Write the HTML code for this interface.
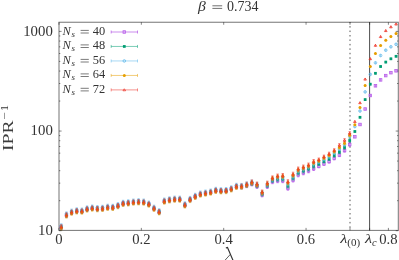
<!DOCTYPE html>
<html><head><meta charset="utf-8"><title>IPR plot</title>
<style>
html,body{margin:0;padding:0;background:#fff;}
body{width:399px;height:260px;overflow:hidden;font-family:"Liberation Serif",serif;}
svg{filter:blur(0.3px);}
svg text{font-family:"Liberation Serif",serif;fill:#333;}
.it{font-style:italic;}
.tk{font-size:13.7px;}
.lg{font-size:12.4px;}
.ti{font-size:14px;}
.ax{font-size:14.4px;}
</style></head><body>
<svg width="399" height="260" viewBox="0 0 399 260" style="display:block">
<rect width="399" height="260" fill="#fff"/>
<line x1="350" y1="22.25" x2="350" y2="230.4" stroke="#555" stroke-width="1.0" stroke-dasharray="1.5 2.95" stroke-dashoffset="0.6"/>
<line x1="369.6" y1="22.25" x2="369.6" y2="230.4" stroke="#444" stroke-width="0.95"/>
<path d="M59.0 230.70 h2.6 M398.3 230.70 h-2.6 M59.0 131.05 h2.6 M398.3 131.05 h-2.6 M59.0 31.40 h2.6 M398.3 31.40 h-2.6 M59.0 200.70 h1.3 M398.3 200.70 h-1.3 M59.0 183.15 h1.3 M398.3 183.15 h-1.3 M59.0 170.70 h1.3 M398.3 170.70 h-1.3 M59.0 161.05 h1.3 M398.3 161.05 h-1.3 M59.0 153.16 h1.3 M398.3 153.16 h-1.3 M59.0 146.49 h1.3 M398.3 146.49 h-1.3 M59.0 140.71 h1.3 M398.3 140.71 h-1.3 M59.0 135.61 h1.3 M398.3 135.61 h-1.3 M59.0 101.05 h1.3 M398.3 101.05 h-1.3 M59.0 83.50 h1.3 M398.3 83.50 h-1.3 M59.0 71.05 h1.3 M398.3 71.05 h-1.3 M59.0 61.40 h1.3 M398.3 61.40 h-1.3 M59.0 53.51 h1.3 M398.3 53.51 h-1.3 M59.0 46.84 h1.3 M398.3 46.84 h-1.3 M59.0 41.06 h1.3 M398.3 41.06 h-1.3 M59.0 35.96 h1.3 M398.3 35.96 h-1.3 M59.00 230.4 v-2.5 M59.00 22.25 v2.5 M141.35 230.4 v-2.5 M141.35 22.25 v2.5 M223.70 230.4 v-2.5 M223.70 22.25 v2.5 M306.05 230.4 v-2.5 M306.05 22.25 v2.5 M388.40 230.4 v-2.5 M388.40 22.25 v2.5 M350 230.4 v-2.5 M350 22.25 v2.5 M369.6 230.4 v-2.5 M369.6 22.25 v2.5" stroke="#222" stroke-width="0.55" fill="none"/>
<g><path d="M61.30 225.30 V229.30 M60.10 225.30 h2.4 M60.10 229.30 h2.4" stroke="#9d22dc" stroke-width="0.55" fill="none"/><rect x="60.03" y="226.03" width="2.54" height="2.54" fill="#c88af0" fill-opacity="0.4" stroke="#b95fea" stroke-width="0.8"/><path d="M66.45 213.40 V217.40 M65.25 213.40 h2.4 M65.25 217.40 h2.4" stroke="#9d22dc" stroke-width="0.55" fill="none"/><rect x="65.18" y="214.13" width="2.54" height="2.54" fill="#c88af0" fill-opacity="0.4" stroke="#b95fea" stroke-width="0.8"/><path d="M71.60 210.60 V214.60 M70.40 210.60 h2.4 M70.40 214.60 h2.4" stroke="#9d22dc" stroke-width="0.55" fill="none"/><rect x="70.33" y="211.33" width="2.54" height="2.54" fill="#c88af0" fill-opacity="0.4" stroke="#b95fea" stroke-width="0.8"/><path d="M76.75 209.30 V213.30 M75.55 209.30 h2.4 M75.55 213.30 h2.4" stroke="#9d22dc" stroke-width="0.55" fill="none"/><rect x="75.48" y="210.03" width="2.54" height="2.54" fill="#c88af0" fill-opacity="0.4" stroke="#b95fea" stroke-width="0.8"/><path d="M81.90 209.50 V213.50 M80.70 209.50 h2.4 M80.70 213.50 h2.4" stroke="#9d22dc" stroke-width="0.55" fill="none"/><rect x="80.63" y="210.23" width="2.54" height="2.54" fill="#c88af0" fill-opacity="0.4" stroke="#b95fea" stroke-width="0.8"/><path d="M87.05 207.40 V211.40 M85.85 207.40 h2.4 M85.85 211.40 h2.4" stroke="#9d22dc" stroke-width="0.55" fill="none"/><rect x="85.78" y="208.13" width="2.54" height="2.54" fill="#c88af0" fill-opacity="0.4" stroke="#b95fea" stroke-width="0.8"/><path d="M92.20 206.50 V210.50 M91.00 206.50 h2.4 M91.00 210.50 h2.4" stroke="#9d22dc" stroke-width="0.55" fill="none"/><rect x="90.93" y="207.23" width="2.54" height="2.54" fill="#c88af0" fill-opacity="0.4" stroke="#b95fea" stroke-width="0.8"/><path d="M97.35 207.10 V211.10 M96.15 207.10 h2.4 M96.15 211.10 h2.4" stroke="#9d22dc" stroke-width="0.55" fill="none"/><rect x="96.08" y="207.83" width="2.54" height="2.54" fill="#c88af0" fill-opacity="0.4" stroke="#b95fea" stroke-width="0.8"/><path d="M102.50 206.80 V210.80 M101.30 206.80 h2.4 M101.30 210.80 h2.4" stroke="#9d22dc" stroke-width="0.55" fill="none"/><rect x="101.23" y="207.53" width="2.54" height="2.54" fill="#c88af0" fill-opacity="0.4" stroke="#b95fea" stroke-width="0.8"/><path d="M107.65 205.70 V209.70 M106.45 205.70 h2.4 M106.45 209.70 h2.4" stroke="#9d22dc" stroke-width="0.55" fill="none"/><rect x="106.38" y="206.43" width="2.54" height="2.54" fill="#c88af0" fill-opacity="0.4" stroke="#b95fea" stroke-width="0.8"/><path d="M112.80 205.80 V209.80 M111.60 205.80 h2.4 M111.60 209.80 h2.4" stroke="#9d22dc" stroke-width="0.55" fill="none"/><rect x="111.53" y="206.53" width="2.54" height="2.54" fill="#c88af0" fill-opacity="0.4" stroke="#b95fea" stroke-width="0.8"/><path d="M117.95 204.10 V208.10 M116.75 204.10 h2.4 M116.75 208.10 h2.4" stroke="#9d22dc" stroke-width="0.55" fill="none"/><rect x="116.68" y="204.83" width="2.54" height="2.54" fill="#c88af0" fill-opacity="0.4" stroke="#b95fea" stroke-width="0.8"/><path d="M123.10 201.80 V205.80 M121.90 201.80 h2.4 M121.90 205.80 h2.4" stroke="#9d22dc" stroke-width="0.55" fill="none"/><rect x="121.83" y="202.53" width="2.54" height="2.54" fill="#c88af0" fill-opacity="0.4" stroke="#b95fea" stroke-width="0.8"/><path d="M128.25 201.30 V205.30 M127.05 201.30 h2.4 M127.05 205.30 h2.4" stroke="#9d22dc" stroke-width="0.55" fill="none"/><rect x="126.98" y="202.03" width="2.54" height="2.54" fill="#c88af0" fill-opacity="0.4" stroke="#b95fea" stroke-width="0.8"/><path d="M133.40 200.50 V204.50 M132.20 200.50 h2.4 M132.20 204.50 h2.4" stroke="#9d22dc" stroke-width="0.55" fill="none"/><rect x="132.13" y="201.23" width="2.54" height="2.54" fill="#c88af0" fill-opacity="0.4" stroke="#b95fea" stroke-width="0.8"/><path d="M138.55 200.20 V204.20 M137.35 200.20 h2.4 M137.35 204.20 h2.4" stroke="#9d22dc" stroke-width="0.55" fill="none"/><rect x="137.28" y="200.93" width="2.54" height="2.54" fill="#c88af0" fill-opacity="0.4" stroke="#b95fea" stroke-width="0.8"/><path d="M143.70 200.50 V204.50 M142.50 200.50 h2.4 M142.50 204.50 h2.4" stroke="#9d22dc" stroke-width="0.55" fill="none"/><rect x="142.43" y="201.23" width="2.54" height="2.54" fill="#c88af0" fill-opacity="0.4" stroke="#b95fea" stroke-width="0.8"/><path d="M148.85 202.50 V206.50 M147.65 202.50 h2.4 M147.65 206.50 h2.4" stroke="#9d22dc" stroke-width="0.55" fill="none"/><rect x="147.58" y="203.23" width="2.54" height="2.54" fill="#c88af0" fill-opacity="0.4" stroke="#b95fea" stroke-width="0.8"/><path d="M154.00 206.70 V210.70 M152.80 206.70 h2.4 M152.80 210.70 h2.4" stroke="#9d22dc" stroke-width="0.55" fill="none"/><rect x="152.73" y="207.43" width="2.54" height="2.54" fill="#c88af0" fill-opacity="0.4" stroke="#b95fea" stroke-width="0.8"/><path d="M159.15 210.20 V214.20 M157.95 210.20 h2.4 M157.95 214.20 h2.4" stroke="#9d22dc" stroke-width="0.55" fill="none"/><rect x="157.88" y="210.93" width="2.54" height="2.54" fill="#c88af0" fill-opacity="0.4" stroke="#b95fea" stroke-width="0.8"/><path d="M164.30 199.50 V203.50 M163.10 199.50 h2.4 M163.10 203.50 h2.4" stroke="#9d22dc" stroke-width="0.55" fill="none"/><rect x="163.03" y="200.23" width="2.54" height="2.54" fill="#c88af0" fill-opacity="0.4" stroke="#b95fea" stroke-width="0.8"/><path d="M169.45 198.30 V202.30 M168.25 198.30 h2.4 M168.25 202.30 h2.4" stroke="#9d22dc" stroke-width="0.55" fill="none"/><rect x="168.18" y="199.03" width="2.54" height="2.54" fill="#c88af0" fill-opacity="0.4" stroke="#b95fea" stroke-width="0.8"/><path d="M174.60 197.60 V201.60 M173.40 197.60 h2.4 M173.40 201.60 h2.4" stroke="#9d22dc" stroke-width="0.55" fill="none"/><rect x="173.33" y="198.33" width="2.54" height="2.54" fill="#c88af0" fill-opacity="0.4" stroke="#b95fea" stroke-width="0.8"/><path d="M179.75 197.60 V201.60 M178.55 197.60 h2.4 M178.55 201.60 h2.4" stroke="#9d22dc" stroke-width="0.55" fill="none"/><rect x="178.48" y="198.33" width="2.54" height="2.54" fill="#c88af0" fill-opacity="0.4" stroke="#b95fea" stroke-width="0.8"/><path d="M184.90 203.30 V207.30 M183.70 203.30 h2.4 M183.70 207.30 h2.4" stroke="#9d22dc" stroke-width="0.55" fill="none"/><rect x="183.63" y="204.03" width="2.54" height="2.54" fill="#c88af0" fill-opacity="0.4" stroke="#b95fea" stroke-width="0.8"/><path d="M190.05 197.90 V201.90 M188.85 197.90 h2.4 M188.85 201.90 h2.4" stroke="#9d22dc" stroke-width="0.55" fill="none"/><rect x="188.78" y="198.63" width="2.54" height="2.54" fill="#c88af0" fill-opacity="0.4" stroke="#b95fea" stroke-width="0.8"/><path d="M195.20 194.80 V198.80 M194.00 194.80 h2.4 M194.00 198.80 h2.4" stroke="#9d22dc" stroke-width="0.55" fill="none"/><rect x="193.93" y="195.53" width="2.54" height="2.54" fill="#c88af0" fill-opacity="0.4" stroke="#b95fea" stroke-width="0.8"/><path d="M200.35 192.50 V196.50 M199.15 192.50 h2.4 M199.15 196.50 h2.4" stroke="#9d22dc" stroke-width="0.55" fill="none"/><rect x="199.08" y="193.23" width="2.54" height="2.54" fill="#c88af0" fill-opacity="0.4" stroke="#b95fea" stroke-width="0.8"/><path d="M205.50 191.50 V195.50 M204.30 191.50 h2.4 M204.30 195.50 h2.4" stroke="#9d22dc" stroke-width="0.55" fill="none"/><rect x="204.23" y="192.23" width="2.54" height="2.54" fill="#c88af0" fill-opacity="0.4" stroke="#b95fea" stroke-width="0.8"/><path d="M210.65 190.50 V194.50 M209.45 190.50 h2.4 M209.45 194.50 h2.4" stroke="#9d22dc" stroke-width="0.55" fill="none"/><rect x="209.38" y="191.23" width="2.54" height="2.54" fill="#c88af0" fill-opacity="0.4" stroke="#b95fea" stroke-width="0.8"/><path d="M215.80 188.80 V192.80 M214.60 188.80 h2.4 M214.60 192.80 h2.4" stroke="#9d22dc" stroke-width="0.55" fill="none"/><rect x="214.53" y="189.53" width="2.54" height="2.54" fill="#c88af0" fill-opacity="0.4" stroke="#b95fea" stroke-width="0.8"/><path d="M220.95 189.20 V193.20 M219.75 189.20 h2.4 M219.75 193.20 h2.4" stroke="#9d22dc" stroke-width="0.55" fill="none"/><rect x="219.68" y="189.93" width="2.54" height="2.54" fill="#c88af0" fill-opacity="0.4" stroke="#b95fea" stroke-width="0.8"/><path d="M226.10 189.00 V193.00 M224.90 189.00 h2.4 M224.90 193.00 h2.4" stroke="#9d22dc" stroke-width="0.55" fill="none"/><rect x="224.83" y="189.73" width="2.54" height="2.54" fill="#c88af0" fill-opacity="0.4" stroke="#b95fea" stroke-width="0.8"/><path d="M231.25 187.30 V191.30 M230.05 187.30 h2.4 M230.05 191.30 h2.4" stroke="#9d22dc" stroke-width="0.55" fill="none"/><rect x="229.98" y="188.03" width="2.54" height="2.54" fill="#c88af0" fill-opacity="0.4" stroke="#b95fea" stroke-width="0.8"/><path d="M236.40 184.80 V188.80 M235.20 184.80 h2.4 M235.20 188.80 h2.4" stroke="#9d22dc" stroke-width="0.55" fill="none"/><rect x="235.13" y="185.53" width="2.54" height="2.54" fill="#c88af0" fill-opacity="0.4" stroke="#b95fea" stroke-width="0.8"/><path d="M241.55 185.03 V189.03 M240.35 185.03 h2.4 M240.35 189.03 h2.4" stroke="#9d22dc" stroke-width="0.55" fill="none"/><rect x="240.28" y="185.76" width="2.54" height="2.54" fill="#c88af0" fill-opacity="0.4" stroke="#b95fea" stroke-width="0.8"/><path d="M246.70 183.66 V187.66 M245.50 183.66 h2.4 M245.50 187.66 h2.4" stroke="#9d22dc" stroke-width="0.55" fill="none"/><rect x="245.43" y="184.39" width="2.54" height="2.54" fill="#c88af0" fill-opacity="0.4" stroke="#b95fea" stroke-width="0.8"/><path d="M251.85 181.89 V185.89 M250.65 181.89 h2.4 M250.65 185.89 h2.4" stroke="#9d22dc" stroke-width="0.55" fill="none"/><rect x="250.58" y="182.62" width="2.54" height="2.54" fill="#c88af0" fill-opacity="0.4" stroke="#b95fea" stroke-width="0.8"/><path d="M257.00 184.41 V188.41 M255.80 184.41 h2.4 M255.80 188.41 h2.4" stroke="#9d22dc" stroke-width="0.55" fill="none"/><rect x="255.73" y="185.14" width="2.54" height="2.54" fill="#c88af0" fill-opacity="0.4" stroke="#b95fea" stroke-width="0.8"/><path d="M262.15 192.84 V196.84 M260.95 192.84 h2.4 M260.95 196.84 h2.4" stroke="#9d22dc" stroke-width="0.55" fill="none"/><rect x="260.88" y="193.57" width="2.54" height="2.54" fill="#c88af0" fill-opacity="0.4" stroke="#b95fea" stroke-width="0.8"/><path d="M267.30 184.47 V188.47 M266.10 184.47 h2.4 M266.10 188.47 h2.4" stroke="#9d22dc" stroke-width="0.55" fill="none"/><rect x="266.03" y="185.20" width="2.54" height="2.54" fill="#c88af0" fill-opacity="0.4" stroke="#b95fea" stroke-width="0.8"/><path d="M272.45 179.70 V183.70 M271.25 179.70 h2.4 M271.25 183.70 h2.4" stroke="#9d22dc" stroke-width="0.55" fill="none"/><rect x="271.18" y="180.43" width="2.54" height="2.54" fill="#c88af0" fill-opacity="0.4" stroke="#b95fea" stroke-width="0.8"/><path d="M277.60 178.70 V182.70 M276.40 178.70 h2.4 M276.40 182.70 h2.4" stroke="#9d22dc" stroke-width="0.55" fill="none"/><rect x="276.33" y="179.43" width="2.54" height="2.54" fill="#c88af0" fill-opacity="0.4" stroke="#b95fea" stroke-width="0.8"/><path d="M282.75 178.70 V182.70 M281.55 178.70 h2.4 M281.55 182.70 h2.4" stroke="#9d22dc" stroke-width="0.55" fill="none"/><rect x="281.48" y="179.43" width="2.54" height="2.54" fill="#c88af0" fill-opacity="0.4" stroke="#b95fea" stroke-width="0.8"/><path d="M287.90 186.20 V190.20 M286.70 186.20 h2.4 M286.70 190.20 h2.4" stroke="#9d22dc" stroke-width="0.55" fill="none"/><rect x="286.63" y="186.93" width="2.54" height="2.54" fill="#c88af0" fill-opacity="0.4" stroke="#b95fea" stroke-width="0.8"/><path d="M293.05 178.00 V182.00 M291.85 178.00 h2.4 M291.85 182.00 h2.4" stroke="#9d22dc" stroke-width="0.55" fill="none"/><rect x="291.78" y="178.73" width="2.54" height="2.54" fill="#c88af0" fill-opacity="0.4" stroke="#b95fea" stroke-width="0.8"/><path d="M298.20 172.80 V176.80 M297.00 172.80 h2.4 M297.00 176.80 h2.4" stroke="#9d22dc" stroke-width="0.55" fill="none"/><rect x="296.93" y="173.53" width="2.54" height="2.54" fill="#c88af0" fill-opacity="0.4" stroke="#b95fea" stroke-width="0.8"/><path d="M303.35 170.80 V174.80 M302.15 170.80 h2.4 M302.15 174.80 h2.4" stroke="#9d22dc" stroke-width="0.55" fill="none"/><rect x="302.08" y="171.53" width="2.54" height="2.54" fill="#c88af0" fill-opacity="0.4" stroke="#b95fea" stroke-width="0.8"/><path d="M308.50 168.80 V172.80 M307.30 168.80 h2.4 M307.30 172.80 h2.4" stroke="#9d22dc" stroke-width="0.55" fill="none"/><rect x="307.23" y="169.53" width="2.54" height="2.54" fill="#c88af0" fill-opacity="0.4" stroke="#b95fea" stroke-width="0.8"/><path d="M313.65 166.50 V170.50 M312.45 166.50 h2.4 M312.45 170.50 h2.4" stroke="#9d22dc" stroke-width="0.55" fill="none"/><rect x="312.38" y="167.23" width="2.54" height="2.54" fill="#c88af0" fill-opacity="0.4" stroke="#b95fea" stroke-width="0.8"/><path d="M318.80 164.60 V167.80 M317.60 164.60 h2.4 M317.60 167.80 h2.4" stroke="#9d22dc" stroke-width="0.55" fill="none"/><rect x="317.53" y="164.93" width="2.54" height="2.54" fill="#c88af0" fill-opacity="0.4" stroke="#b95fea" stroke-width="0.8"/><path d="M323.95 162.20 V165.40 M322.75 162.20 h2.4 M322.75 165.40 h2.4" stroke="#9d22dc" stroke-width="0.55" fill="none"/><rect x="322.68" y="162.53" width="2.54" height="2.54" fill="#c88af0" fill-opacity="0.4" stroke="#b95fea" stroke-width="0.8"/><path d="M329.10 159.90 V163.10 M327.90 159.90 h2.4 M327.90 163.10 h2.4" stroke="#9d22dc" stroke-width="0.55" fill="none"/><rect x="327.83" y="160.23" width="2.54" height="2.54" fill="#c88af0" fill-opacity="0.4" stroke="#b95fea" stroke-width="0.8"/><path d="M334.25 156.70 V159.90 M333.05 156.70 h2.4 M333.05 159.90 h2.4" stroke="#9d22dc" stroke-width="0.55" fill="none"/><rect x="332.98" y="157.03" width="2.54" height="2.54" fill="#c88af0" fill-opacity="0.4" stroke="#b95fea" stroke-width="0.8"/><path d="M339.40 153.40 V156.60 M338.20 153.40 h2.4 M338.20 156.60 h2.4" stroke="#9d22dc" stroke-width="0.55" fill="none"/><rect x="338.13" y="153.73" width="2.54" height="2.54" fill="#c88af0" fill-opacity="0.4" stroke="#b95fea" stroke-width="0.8"/><path d="M344.55 148.90 V152.10 M343.35 148.90 h2.4 M343.35 152.10 h2.4" stroke="#9d22dc" stroke-width="0.55" fill="none"/><rect x="343.28" y="149.23" width="2.54" height="2.54" fill="#c88af0" fill-opacity="0.4" stroke="#b95fea" stroke-width="0.8"/><path d="M349.70 142.90 V146.10 M348.50 142.90 h2.4 M348.50 146.10 h2.4" stroke="#9d22dc" stroke-width="0.55" fill="none"/><rect x="348.43" y="143.23" width="2.54" height="2.54" fill="#c88af0" fill-opacity="0.4" stroke="#b95fea" stroke-width="0.8"/><path d="M354.85 136.00 V137.60 M354.40 136.00 h0.9 M354.40 137.60 h0.9" stroke="#9d22dc" stroke-width="0.55" fill="none"/><rect x="353.58" y="135.53" width="2.54" height="2.54" fill="#c88af0" fill-opacity="0.4" stroke="#b95fea" stroke-width="0.8"/><path d="M360.00 123.70 V125.30 M359.55 123.70 h0.9 M359.55 125.30 h0.9" stroke="#9d22dc" stroke-width="0.55" fill="none"/><rect x="358.73" y="123.23" width="2.54" height="2.54" fill="#c88af0" fill-opacity="0.4" stroke="#b95fea" stroke-width="0.8"/><path d="M365.15 108.20 V109.80 M364.70 108.20 h0.9 M364.70 109.80 h0.9" stroke="#9d22dc" stroke-width="0.55" fill="none"/><rect x="363.88" y="107.73" width="2.54" height="2.54" fill="#c88af0" fill-opacity="0.4" stroke="#b95fea" stroke-width="0.8"/><path d="M370.30 94.70 V96.30 M369.85 94.70 h0.9 M369.85 96.30 h0.9" stroke="#9d22dc" stroke-width="0.55" fill="none"/><rect x="369.03" y="94.23" width="2.54" height="2.54" fill="#c88af0" fill-opacity="0.4" stroke="#b95fea" stroke-width="0.8"/><path d="M375.45 85.00 V86.60 M375.00 85.00 h0.9 M375.00 86.60 h0.9" stroke="#9d22dc" stroke-width="0.55" fill="none"/><rect x="374.18" y="84.53" width="2.54" height="2.54" fill="#c88af0" fill-opacity="0.4" stroke="#b95fea" stroke-width="0.8"/><path d="M380.60 79.10 V80.70 M380.15 79.10 h0.9 M380.15 80.70 h0.9" stroke="#9d22dc" stroke-width="0.55" fill="none"/><rect x="379.33" y="78.63" width="2.54" height="2.54" fill="#c88af0" fill-opacity="0.4" stroke="#b95fea" stroke-width="0.8"/><path d="M385.75 74.80 V76.40 M385.30 74.80 h0.9 M385.30 76.40 h0.9" stroke="#9d22dc" stroke-width="0.55" fill="none"/><rect x="384.48" y="74.33" width="2.54" height="2.54" fill="#c88af0" fill-opacity="0.4" stroke="#b95fea" stroke-width="0.8"/><path d="M390.90 71.90 V73.50 M390.45 71.90 h0.9 M390.45 73.50 h0.9" stroke="#9d22dc" stroke-width="0.55" fill="none"/><rect x="389.63" y="71.43" width="2.54" height="2.54" fill="#c88af0" fill-opacity="0.4" stroke="#b95fea" stroke-width="0.8"/><path d="M396.05 70.00 V71.60 M395.60 70.00 h0.9 M395.60 71.60 h0.9" stroke="#9d22dc" stroke-width="0.55" fill="none"/><rect x="394.78" y="69.53" width="2.54" height="2.54" fill="#c88af0" fill-opacity="0.4" stroke="#b95fea" stroke-width="0.8"/></g>
<g><path d="M61.30 225.20 V229.20 M60.10 225.20 h2.4 M60.10 229.20 h2.4" stroke="#009e73" stroke-width="0.55" fill="none"/><rect x="59.92" y="225.82" width="2.76" height="2.76" fill="#009e73"/><path d="M66.45 213.30 V217.30 M65.25 213.30 h2.4 M65.25 217.30 h2.4" stroke="#009e73" stroke-width="0.55" fill="none"/><rect x="65.07" y="213.92" width="2.76" height="2.76" fill="#009e73"/><path d="M71.60 210.50 V214.50 M70.40 210.50 h2.4 M70.40 214.50 h2.4" stroke="#009e73" stroke-width="0.55" fill="none"/><rect x="70.22" y="211.12" width="2.76" height="2.76" fill="#009e73"/><path d="M76.75 209.20 V213.20 M75.55 209.20 h2.4 M75.55 213.20 h2.4" stroke="#009e73" stroke-width="0.55" fill="none"/><rect x="75.37" y="209.82" width="2.76" height="2.76" fill="#009e73"/><path d="M81.90 209.40 V213.40 M80.70 209.40 h2.4 M80.70 213.40 h2.4" stroke="#009e73" stroke-width="0.55" fill="none"/><rect x="80.52" y="210.02" width="2.76" height="2.76" fill="#009e73"/><path d="M87.05 207.30 V211.30 M85.85 207.30 h2.4 M85.85 211.30 h2.4" stroke="#009e73" stroke-width="0.55" fill="none"/><rect x="85.67" y="207.92" width="2.76" height="2.76" fill="#009e73"/><path d="M92.20 206.40 V210.40 M91.00 206.40 h2.4 M91.00 210.40 h2.4" stroke="#009e73" stroke-width="0.55" fill="none"/><rect x="90.82" y="207.02" width="2.76" height="2.76" fill="#009e73"/><path d="M97.35 207.00 V211.00 M96.15 207.00 h2.4 M96.15 211.00 h2.4" stroke="#009e73" stroke-width="0.55" fill="none"/><rect x="95.97" y="207.62" width="2.76" height="2.76" fill="#009e73"/><path d="M102.50 206.70 V210.70 M101.30 206.70 h2.4 M101.30 210.70 h2.4" stroke="#009e73" stroke-width="0.55" fill="none"/><rect x="101.12" y="207.32" width="2.76" height="2.76" fill="#009e73"/><path d="M107.65 205.60 V209.60 M106.45 205.60 h2.4 M106.45 209.60 h2.4" stroke="#009e73" stroke-width="0.55" fill="none"/><rect x="106.27" y="206.22" width="2.76" height="2.76" fill="#009e73"/><path d="M112.80 205.70 V209.70 M111.60 205.70 h2.4 M111.60 209.70 h2.4" stroke="#009e73" stroke-width="0.55" fill="none"/><rect x="111.42" y="206.32" width="2.76" height="2.76" fill="#009e73"/><path d="M117.95 204.00 V208.00 M116.75 204.00 h2.4 M116.75 208.00 h2.4" stroke="#009e73" stroke-width="0.55" fill="none"/><rect x="116.57" y="204.62" width="2.76" height="2.76" fill="#009e73"/><path d="M123.10 201.70 V205.70 M121.90 201.70 h2.4 M121.90 205.70 h2.4" stroke="#009e73" stroke-width="0.55" fill="none"/><rect x="121.72" y="202.32" width="2.76" height="2.76" fill="#009e73"/><path d="M128.25 201.20 V205.20 M127.05 201.20 h2.4 M127.05 205.20 h2.4" stroke="#009e73" stroke-width="0.55" fill="none"/><rect x="126.87" y="201.82" width="2.76" height="2.76" fill="#009e73"/><path d="M133.40 200.40 V204.40 M132.20 200.40 h2.4 M132.20 204.40 h2.4" stroke="#009e73" stroke-width="0.55" fill="none"/><rect x="132.02" y="201.02" width="2.76" height="2.76" fill="#009e73"/><path d="M138.55 200.10 V204.10 M137.35 200.10 h2.4 M137.35 204.10 h2.4" stroke="#009e73" stroke-width="0.55" fill="none"/><rect x="137.17" y="200.72" width="2.76" height="2.76" fill="#009e73"/><path d="M143.70 200.40 V204.40 M142.50 200.40 h2.4 M142.50 204.40 h2.4" stroke="#009e73" stroke-width="0.55" fill="none"/><rect x="142.32" y="201.02" width="2.76" height="2.76" fill="#009e73"/><path d="M148.85 202.40 V206.40 M147.65 202.40 h2.4 M147.65 206.40 h2.4" stroke="#009e73" stroke-width="0.55" fill="none"/><rect x="147.47" y="203.02" width="2.76" height="2.76" fill="#009e73"/><path d="M154.00 206.60 V210.60 M152.80 206.60 h2.4 M152.80 210.60 h2.4" stroke="#009e73" stroke-width="0.55" fill="none"/><rect x="152.62" y="207.22" width="2.76" height="2.76" fill="#009e73"/><path d="M159.15 210.10 V214.10 M157.95 210.10 h2.4 M157.95 214.10 h2.4" stroke="#009e73" stroke-width="0.55" fill="none"/><rect x="157.77" y="210.72" width="2.76" height="2.76" fill="#009e73"/><path d="M164.30 199.40 V203.40 M163.10 199.40 h2.4 M163.10 203.40 h2.4" stroke="#009e73" stroke-width="0.55" fill="none"/><rect x="162.92" y="200.02" width="2.76" height="2.76" fill="#009e73"/><path d="M169.45 198.20 V202.20 M168.25 198.20 h2.4 M168.25 202.20 h2.4" stroke="#009e73" stroke-width="0.55" fill="none"/><rect x="168.07" y="198.82" width="2.76" height="2.76" fill="#009e73"/><path d="M174.60 197.50 V201.50 M173.40 197.50 h2.4 M173.40 201.50 h2.4" stroke="#009e73" stroke-width="0.55" fill="none"/><rect x="173.22" y="198.12" width="2.76" height="2.76" fill="#009e73"/><path d="M179.75 197.50 V201.50 M178.55 197.50 h2.4 M178.55 201.50 h2.4" stroke="#009e73" stroke-width="0.55" fill="none"/><rect x="178.37" y="198.12" width="2.76" height="2.76" fill="#009e73"/><path d="M184.90 203.20 V207.20 M183.70 203.20 h2.4 M183.70 207.20 h2.4" stroke="#009e73" stroke-width="0.55" fill="none"/><rect x="183.52" y="203.82" width="2.76" height="2.76" fill="#009e73"/><path d="M190.05 197.80 V201.80 M188.85 197.80 h2.4 M188.85 201.80 h2.4" stroke="#009e73" stroke-width="0.55" fill="none"/><rect x="188.67" y="198.42" width="2.76" height="2.76" fill="#009e73"/><path d="M195.20 194.70 V198.70 M194.00 194.70 h2.4 M194.00 198.70 h2.4" stroke="#009e73" stroke-width="0.55" fill="none"/><rect x="193.82" y="195.32" width="2.76" height="2.76" fill="#009e73"/><path d="M200.35 192.40 V196.40 M199.15 192.40 h2.4 M199.15 196.40 h2.4" stroke="#009e73" stroke-width="0.55" fill="none"/><rect x="198.97" y="193.02" width="2.76" height="2.76" fill="#009e73"/><path d="M205.50 191.40 V195.40 M204.30 191.40 h2.4 M204.30 195.40 h2.4" stroke="#009e73" stroke-width="0.55" fill="none"/><rect x="204.12" y="192.02" width="2.76" height="2.76" fill="#009e73"/><path d="M210.65 190.40 V194.40 M209.45 190.40 h2.4 M209.45 194.40 h2.4" stroke="#009e73" stroke-width="0.55" fill="none"/><rect x="209.27" y="191.02" width="2.76" height="2.76" fill="#009e73"/><path d="M215.80 188.70 V192.70 M214.60 188.70 h2.4 M214.60 192.70 h2.4" stroke="#009e73" stroke-width="0.55" fill="none"/><rect x="214.42" y="189.32" width="2.76" height="2.76" fill="#009e73"/><path d="M220.95 189.10 V193.10 M219.75 189.10 h2.4 M219.75 193.10 h2.4" stroke="#009e73" stroke-width="0.55" fill="none"/><rect x="219.57" y="189.72" width="2.76" height="2.76" fill="#009e73"/><path d="M226.10 188.90 V192.90 M224.90 188.90 h2.4 M224.90 192.90 h2.4" stroke="#009e73" stroke-width="0.55" fill="none"/><rect x="224.72" y="189.52" width="2.76" height="2.76" fill="#009e73"/><path d="M231.25 187.20 V191.20 M230.05 187.20 h2.4 M230.05 191.20 h2.4" stroke="#009e73" stroke-width="0.55" fill="none"/><rect x="229.87" y="187.82" width="2.76" height="2.76" fill="#009e73"/><path d="M236.40 184.70 V188.70 M235.20 184.70 h2.4 M235.20 188.70 h2.4" stroke="#009e73" stroke-width="0.55" fill="none"/><rect x="235.02" y="185.32" width="2.76" height="2.76" fill="#009e73"/><path d="M241.55 184.76 V188.76 M240.35 184.76 h2.4 M240.35 188.76 h2.4" stroke="#009e73" stroke-width="0.55" fill="none"/><rect x="240.17" y="185.38" width="2.76" height="2.76" fill="#009e73"/><path d="M246.70 183.21 V187.21 M245.50 183.21 h2.4 M245.50 187.21 h2.4" stroke="#009e73" stroke-width="0.55" fill="none"/><rect x="245.32" y="183.83" width="2.76" height="2.76" fill="#009e73"/><path d="M251.85 181.27 V185.27 M250.65 181.27 h2.4 M250.65 185.27 h2.4" stroke="#009e73" stroke-width="0.55" fill="none"/><rect x="250.47" y="181.89" width="2.76" height="2.76" fill="#009e73"/><path d="M257.00 183.63 V187.63 M255.80 183.63 h2.4 M255.80 187.63 h2.4" stroke="#009e73" stroke-width="0.55" fill="none"/><rect x="255.62" y="184.25" width="2.76" height="2.76" fill="#009e73"/><path d="M262.15 191.89 V195.89 M260.95 191.89 h2.4 M260.95 195.89 h2.4" stroke="#009e73" stroke-width="0.55" fill="none"/><rect x="260.77" y="192.51" width="2.76" height="2.76" fill="#009e73"/><path d="M267.30 183.34 V187.34 M266.10 183.34 h2.4 M266.10 187.34 h2.4" stroke="#009e73" stroke-width="0.55" fill="none"/><rect x="265.92" y="183.96" width="2.76" height="2.76" fill="#009e73"/><path d="M272.45 178.41 V182.41 M271.25 178.41 h2.4 M271.25 182.41 h2.4" stroke="#009e73" stroke-width="0.55" fill="none"/><rect x="271.07" y="179.03" width="2.76" height="2.76" fill="#009e73"/><path d="M277.60 177.10 V181.10 M276.40 177.10 h2.4 M276.40 181.10 h2.4" stroke="#009e73" stroke-width="0.55" fill="none"/><rect x="276.22" y="177.72" width="2.76" height="2.76" fill="#009e73"/><path d="M282.75 176.93 V180.93 M281.55 176.93 h2.4 M281.55 180.93 h2.4" stroke="#009e73" stroke-width="0.55" fill="none"/><rect x="281.37" y="177.55" width="2.76" height="2.76" fill="#009e73"/><path d="M287.90 183.99 V187.99 M286.70 183.99 h2.4 M286.70 187.99 h2.4" stroke="#009e73" stroke-width="0.55" fill="none"/><rect x="286.52" y="184.61" width="2.76" height="2.76" fill="#009e73"/><path d="M293.05 176.03 V180.03 M291.85 176.03 h2.4 M291.85 180.03 h2.4" stroke="#009e73" stroke-width="0.55" fill="none"/><rect x="291.67" y="176.65" width="2.76" height="2.76" fill="#009e73"/><path d="M298.20 170.83 V174.83 M297.00 170.83 h2.4 M297.00 174.83 h2.4" stroke="#009e73" stroke-width="0.55" fill="none"/><rect x="296.82" y="171.45" width="2.76" height="2.76" fill="#009e73"/><path d="M303.35 168.83 V172.83 M302.15 168.83 h2.4 M302.15 172.83 h2.4" stroke="#009e73" stroke-width="0.55" fill="none"/><rect x="301.97" y="169.45" width="2.76" height="2.76" fill="#009e73"/><path d="M308.50 166.83 V170.83 M307.30 166.83 h2.4 M307.30 170.83 h2.4" stroke="#009e73" stroke-width="0.55" fill="none"/><rect x="307.12" y="167.45" width="2.76" height="2.76" fill="#009e73"/><path d="M313.65 164.12 V168.12 M312.45 164.12 h2.4 M312.45 168.12 h2.4" stroke="#009e73" stroke-width="0.55" fill="none"/><rect x="312.27" y="164.74" width="2.76" height="2.76" fill="#009e73"/><path d="M318.80 162.36 V165.56 M317.60 162.36 h2.4 M317.60 165.56 h2.4" stroke="#009e73" stroke-width="0.55" fill="none"/><rect x="317.42" y="162.58" width="2.76" height="2.76" fill="#009e73"/><path d="M323.95 159.79 V162.99 M322.75 159.79 h2.4 M322.75 162.99 h2.4" stroke="#009e73" stroke-width="0.55" fill="none"/><rect x="322.57" y="160.01" width="2.76" height="2.76" fill="#009e73"/><path d="M329.10 157.28 V160.48 M327.90 157.28 h2.4 M327.90 160.48 h2.4" stroke="#009e73" stroke-width="0.55" fill="none"/><rect x="327.72" y="157.50" width="2.76" height="2.76" fill="#009e73"/><path d="M334.25 153.90 V157.10 M333.05 153.90 h2.4 M333.05 157.10 h2.4" stroke="#009e73" stroke-width="0.55" fill="none"/><rect x="332.87" y="154.12" width="2.76" height="2.76" fill="#009e73"/><path d="M339.40 150.40 V153.60 M338.20 150.40 h2.4 M338.20 153.60 h2.4" stroke="#009e73" stroke-width="0.55" fill="none"/><rect x="338.02" y="150.62" width="2.76" height="2.76" fill="#009e73"/><path d="M344.55 145.90 V149.10 M343.35 145.90 h2.4 M343.35 149.10 h2.4" stroke="#009e73" stroke-width="0.55" fill="none"/><rect x="343.17" y="146.12" width="2.76" height="2.76" fill="#009e73"/><path d="M349.70 138.90 V142.10 M348.50 138.90 h2.4 M348.50 142.10 h2.4" stroke="#009e73" stroke-width="0.55" fill="none"/><rect x="348.32" y="139.12" width="2.76" height="2.76" fill="#009e73"/><path d="M354.85 130.70 V132.30 M354.40 130.70 h0.9 M354.40 132.30 h0.9" stroke="#009e73" stroke-width="0.55" fill="none"/><rect x="353.47" y="130.12" width="2.76" height="2.76" fill="#009e73"/><path d="M360.00 116.50 V118.10 M359.55 116.50 h0.9 M359.55 118.10 h0.9" stroke="#009e73" stroke-width="0.55" fill="none"/><rect x="358.62" y="115.92" width="2.76" height="2.76" fill="#009e73"/><path d="M365.15 98.80 V100.40 M364.70 98.80 h0.9 M364.70 100.40 h0.9" stroke="#009e73" stroke-width="0.55" fill="none"/><rect x="363.77" y="98.22" width="2.76" height="2.76" fill="#009e73"/><path d="M370.30 83.40 V85.00 M369.85 83.40 h0.9 M369.85 85.00 h0.9" stroke="#009e73" stroke-width="0.55" fill="none"/><rect x="368.92" y="82.82" width="2.76" height="2.76" fill="#009e73"/><path d="M375.45 72.50 V74.10 M375.00 72.50 h0.9 M375.00 74.10 h0.9" stroke="#009e73" stroke-width="0.55" fill="none"/><rect x="374.07" y="71.92" width="2.76" height="2.76" fill="#009e73"/><path d="M380.60 65.70 V67.30 M380.15 65.70 h0.9 M380.15 67.30 h0.9" stroke="#009e73" stroke-width="0.55" fill="none"/><rect x="379.22" y="65.12" width="2.76" height="2.76" fill="#009e73"/><path d="M385.75 61.30 V62.90 M385.30 61.30 h0.9 M385.30 62.90 h0.9" stroke="#009e73" stroke-width="0.55" fill="none"/><rect x="384.37" y="60.72" width="2.76" height="2.76" fill="#009e73"/><path d="M390.90 58.00 V59.60 M390.45 58.00 h0.9 M390.45 59.60 h0.9" stroke="#009e73" stroke-width="0.55" fill="none"/><rect x="389.52" y="57.42" width="2.76" height="2.76" fill="#009e73"/><path d="M396.05 55.50 V57.10 M395.60 55.50 h0.9 M395.60 57.10 h0.9" stroke="#009e73" stroke-width="0.55" fill="none"/><rect x="394.67" y="54.92" width="2.76" height="2.76" fill="#009e73"/></g>
<g><path d="M61.30 223.80 V227.80 M60.10 223.80 h2.4 M60.10 227.80 h2.4" stroke="#56b4e9" stroke-width="0.55" fill="none"/><circle cx="61.30" cy="225.80" r="1.32" fill="#56b4e9" fill-opacity="0.06" stroke="#56b4e9" stroke-width="0.7"/><path d="M66.45 211.90 V215.90 M65.25 211.90 h2.4 M65.25 215.90 h2.4" stroke="#56b4e9" stroke-width="0.55" fill="none"/><circle cx="66.45" cy="213.90" r="1.32" fill="#56b4e9" fill-opacity="0.06" stroke="#56b4e9" stroke-width="0.7"/><path d="M71.60 209.10 V213.10 M70.40 209.10 h2.4 M70.40 213.10 h2.4" stroke="#56b4e9" stroke-width="0.55" fill="none"/><circle cx="71.60" cy="211.10" r="1.32" fill="#56b4e9" fill-opacity="0.06" stroke="#56b4e9" stroke-width="0.7"/><path d="M76.75 207.80 V211.80 M75.55 207.80 h2.4 M75.55 211.80 h2.4" stroke="#56b4e9" stroke-width="0.55" fill="none"/><circle cx="76.75" cy="209.80" r="1.32" fill="#56b4e9" fill-opacity="0.06" stroke="#56b4e9" stroke-width="0.7"/><path d="M81.90 208.00 V212.00 M80.70 208.00 h2.4 M80.70 212.00 h2.4" stroke="#56b4e9" stroke-width="0.55" fill="none"/><circle cx="81.90" cy="210.00" r="1.32" fill="#56b4e9" fill-opacity="0.06" stroke="#56b4e9" stroke-width="0.7"/><path d="M87.05 205.90 V209.90 M85.85 205.90 h2.4 M85.85 209.90 h2.4" stroke="#56b4e9" stroke-width="0.55" fill="none"/><circle cx="87.05" cy="207.90" r="1.32" fill="#56b4e9" fill-opacity="0.06" stroke="#56b4e9" stroke-width="0.7"/><path d="M92.20 205.00 V209.00 M91.00 205.00 h2.4 M91.00 209.00 h2.4" stroke="#56b4e9" stroke-width="0.55" fill="none"/><circle cx="92.20" cy="207.00" r="1.32" fill="#56b4e9" fill-opacity="0.06" stroke="#56b4e9" stroke-width="0.7"/><path d="M97.35 205.60 V209.60 M96.15 205.60 h2.4 M96.15 209.60 h2.4" stroke="#56b4e9" stroke-width="0.55" fill="none"/><circle cx="97.35" cy="207.60" r="1.32" fill="#56b4e9" fill-opacity="0.06" stroke="#56b4e9" stroke-width="0.7"/><path d="M102.50 205.30 V209.30 M101.30 205.30 h2.4 M101.30 209.30 h2.4" stroke="#56b4e9" stroke-width="0.55" fill="none"/><circle cx="102.50" cy="207.30" r="1.32" fill="#56b4e9" fill-opacity="0.06" stroke="#56b4e9" stroke-width="0.7"/><path d="M107.65 204.20 V208.20 M106.45 204.20 h2.4 M106.45 208.20 h2.4" stroke="#56b4e9" stroke-width="0.55" fill="none"/><circle cx="107.65" cy="206.20" r="1.32" fill="#56b4e9" fill-opacity="0.06" stroke="#56b4e9" stroke-width="0.7"/><path d="M112.80 204.30 V208.30 M111.60 204.30 h2.4 M111.60 208.30 h2.4" stroke="#56b4e9" stroke-width="0.55" fill="none"/><circle cx="112.80" cy="206.30" r="1.32" fill="#56b4e9" fill-opacity="0.06" stroke="#56b4e9" stroke-width="0.7"/><path d="M117.95 202.60 V206.60 M116.75 202.60 h2.4 M116.75 206.60 h2.4" stroke="#56b4e9" stroke-width="0.55" fill="none"/><circle cx="117.95" cy="204.60" r="1.32" fill="#56b4e9" fill-opacity="0.06" stroke="#56b4e9" stroke-width="0.7"/><path d="M123.10 200.30 V204.30 M121.90 200.30 h2.4 M121.90 204.30 h2.4" stroke="#56b4e9" stroke-width="0.55" fill="none"/><circle cx="123.10" cy="202.30" r="1.32" fill="#56b4e9" fill-opacity="0.06" stroke="#56b4e9" stroke-width="0.7"/><path d="M128.25 199.80 V203.80 M127.05 199.80 h2.4 M127.05 203.80 h2.4" stroke="#56b4e9" stroke-width="0.55" fill="none"/><circle cx="128.25" cy="201.80" r="1.32" fill="#56b4e9" fill-opacity="0.06" stroke="#56b4e9" stroke-width="0.7"/><path d="M133.40 199.00 V203.00 M132.20 199.00 h2.4 M132.20 203.00 h2.4" stroke="#56b4e9" stroke-width="0.55" fill="none"/><circle cx="133.40" cy="201.00" r="1.32" fill="#56b4e9" fill-opacity="0.06" stroke="#56b4e9" stroke-width="0.7"/><path d="M138.55 198.70 V202.70 M137.35 198.70 h2.4 M137.35 202.70 h2.4" stroke="#56b4e9" stroke-width="0.55" fill="none"/><circle cx="138.55" cy="200.70" r="1.32" fill="#56b4e9" fill-opacity="0.06" stroke="#56b4e9" stroke-width="0.7"/><path d="M143.70 199.00 V203.00 M142.50 199.00 h2.4 M142.50 203.00 h2.4" stroke="#56b4e9" stroke-width="0.55" fill="none"/><circle cx="143.70" cy="201.00" r="1.32" fill="#56b4e9" fill-opacity="0.06" stroke="#56b4e9" stroke-width="0.7"/><path d="M148.85 201.00 V205.00 M147.65 201.00 h2.4 M147.65 205.00 h2.4" stroke="#56b4e9" stroke-width="0.55" fill="none"/><circle cx="148.85" cy="203.00" r="1.32" fill="#56b4e9" fill-opacity="0.06" stroke="#56b4e9" stroke-width="0.7"/><path d="M154.00 205.20 V209.20 M152.80 205.20 h2.4 M152.80 209.20 h2.4" stroke="#56b4e9" stroke-width="0.55" fill="none"/><circle cx="154.00" cy="207.20" r="1.32" fill="#56b4e9" fill-opacity="0.06" stroke="#56b4e9" stroke-width="0.7"/><path d="M159.15 208.70 V212.70 M157.95 208.70 h2.4 M157.95 212.70 h2.4" stroke="#56b4e9" stroke-width="0.55" fill="none"/><circle cx="159.15" cy="210.70" r="1.32" fill="#56b4e9" fill-opacity="0.06" stroke="#56b4e9" stroke-width="0.7"/><path d="M164.30 198.00 V202.00 M163.10 198.00 h2.4 M163.10 202.00 h2.4" stroke="#56b4e9" stroke-width="0.55" fill="none"/><circle cx="164.30" cy="200.00" r="1.32" fill="#56b4e9" fill-opacity="0.06" stroke="#56b4e9" stroke-width="0.7"/><path d="M169.45 196.80 V200.80 M168.25 196.80 h2.4 M168.25 200.80 h2.4" stroke="#56b4e9" stroke-width="0.55" fill="none"/><circle cx="169.45" cy="198.80" r="1.32" fill="#56b4e9" fill-opacity="0.06" stroke="#56b4e9" stroke-width="0.7"/><path d="M174.60 196.10 V200.10 M173.40 196.10 h2.4 M173.40 200.10 h2.4" stroke="#56b4e9" stroke-width="0.55" fill="none"/><circle cx="174.60" cy="198.10" r="1.32" fill="#56b4e9" fill-opacity="0.06" stroke="#56b4e9" stroke-width="0.7"/><path d="M179.75 196.10 V200.10 M178.55 196.10 h2.4 M178.55 200.10 h2.4" stroke="#56b4e9" stroke-width="0.55" fill="none"/><circle cx="179.75" cy="198.10" r="1.32" fill="#56b4e9" fill-opacity="0.06" stroke="#56b4e9" stroke-width="0.7"/><path d="M184.90 201.80 V205.80 M183.70 201.80 h2.4 M183.70 205.80 h2.4" stroke="#56b4e9" stroke-width="0.55" fill="none"/><circle cx="184.90" cy="203.80" r="1.32" fill="#56b4e9" fill-opacity="0.06" stroke="#56b4e9" stroke-width="0.7"/><path d="M190.05 196.40 V200.40 M188.85 196.40 h2.4 M188.85 200.40 h2.4" stroke="#56b4e9" stroke-width="0.55" fill="none"/><circle cx="190.05" cy="198.40" r="1.32" fill="#56b4e9" fill-opacity="0.06" stroke="#56b4e9" stroke-width="0.7"/><path d="M195.20 193.30 V197.30 M194.00 193.30 h2.4 M194.00 197.30 h2.4" stroke="#56b4e9" stroke-width="0.55" fill="none"/><circle cx="195.20" cy="195.30" r="1.32" fill="#56b4e9" fill-opacity="0.06" stroke="#56b4e9" stroke-width="0.7"/><path d="M200.35 191.00 V195.00 M199.15 191.00 h2.4 M199.15 195.00 h2.4" stroke="#56b4e9" stroke-width="0.55" fill="none"/><circle cx="200.35" cy="193.00" r="1.32" fill="#56b4e9" fill-opacity="0.06" stroke="#56b4e9" stroke-width="0.7"/><path d="M205.50 190.00 V194.00 M204.30 190.00 h2.4 M204.30 194.00 h2.4" stroke="#56b4e9" stroke-width="0.55" fill="none"/><circle cx="205.50" cy="192.00" r="1.32" fill="#56b4e9" fill-opacity="0.06" stroke="#56b4e9" stroke-width="0.7"/><path d="M210.65 189.00 V193.00 M209.45 189.00 h2.4 M209.45 193.00 h2.4" stroke="#56b4e9" stroke-width="0.55" fill="none"/><circle cx="210.65" cy="191.00" r="1.32" fill="#56b4e9" fill-opacity="0.06" stroke="#56b4e9" stroke-width="0.7"/><path d="M215.80 187.30 V191.30 M214.60 187.30 h2.4 M214.60 191.30 h2.4" stroke="#56b4e9" stroke-width="0.55" fill="none"/><circle cx="215.80" cy="189.30" r="1.32" fill="#56b4e9" fill-opacity="0.06" stroke="#56b4e9" stroke-width="0.7"/><path d="M220.95 187.70 V191.70 M219.75 187.70 h2.4 M219.75 191.70 h2.4" stroke="#56b4e9" stroke-width="0.55" fill="none"/><circle cx="220.95" cy="189.70" r="1.32" fill="#56b4e9" fill-opacity="0.06" stroke="#56b4e9" stroke-width="0.7"/><path d="M226.10 187.50 V191.50 M224.90 187.50 h2.4 M224.90 191.50 h2.4" stroke="#56b4e9" stroke-width="0.55" fill="none"/><circle cx="226.10" cy="189.50" r="1.32" fill="#56b4e9" fill-opacity="0.06" stroke="#56b4e9" stroke-width="0.7"/><path d="M231.25 185.80 V189.80 M230.05 185.80 h2.4 M230.05 189.80 h2.4" stroke="#56b4e9" stroke-width="0.55" fill="none"/><circle cx="231.25" cy="187.80" r="1.32" fill="#56b4e9" fill-opacity="0.06" stroke="#56b4e9" stroke-width="0.7"/><path d="M236.40 183.30 V187.30 M235.20 183.30 h2.4 M235.20 187.30 h2.4" stroke="#56b4e9" stroke-width="0.55" fill="none"/><circle cx="236.40" cy="185.30" r="1.32" fill="#56b4e9" fill-opacity="0.06" stroke="#56b4e9" stroke-width="0.7"/><path d="M241.55 183.41 V187.41 M240.35 183.41 h2.4 M240.35 187.41 h2.4" stroke="#56b4e9" stroke-width="0.55" fill="none"/><circle cx="241.55" cy="185.41" r="1.32" fill="#56b4e9" fill-opacity="0.06" stroke="#56b4e9" stroke-width="0.7"/><path d="M246.70 181.91 V185.91 M245.50 181.91 h2.4 M245.50 185.91 h2.4" stroke="#56b4e9" stroke-width="0.55" fill="none"/><circle cx="246.70" cy="183.91" r="1.32" fill="#56b4e9" fill-opacity="0.06" stroke="#56b4e9" stroke-width="0.7"/><path d="M251.85 180.02 V184.02 M250.65 180.02 h2.4 M250.65 184.02 h2.4" stroke="#56b4e9" stroke-width="0.55" fill="none"/><circle cx="251.85" cy="182.02" r="1.32" fill="#56b4e9" fill-opacity="0.06" stroke="#56b4e9" stroke-width="0.7"/><path d="M257.00 182.43 V186.43 M255.80 182.43 h2.4 M255.80 186.43 h2.4" stroke="#56b4e9" stroke-width="0.55" fill="none"/><circle cx="257.00" cy="184.43" r="1.32" fill="#56b4e9" fill-opacity="0.06" stroke="#56b4e9" stroke-width="0.7"/><path d="M262.15 190.74 V194.74 M260.95 190.74 h2.4 M260.95 194.74 h2.4" stroke="#56b4e9" stroke-width="0.55" fill="none"/><circle cx="262.15" cy="192.74" r="1.32" fill="#56b4e9" fill-opacity="0.06" stroke="#56b4e9" stroke-width="0.7"/><path d="M267.30 182.24 V186.24 M266.10 182.24 h2.4 M266.10 186.24 h2.4" stroke="#56b4e9" stroke-width="0.55" fill="none"/><circle cx="267.30" cy="184.24" r="1.32" fill="#56b4e9" fill-opacity="0.06" stroke="#56b4e9" stroke-width="0.7"/><path d="M272.45 177.31 V181.31 M271.25 177.31 h2.4 M271.25 181.31 h2.4" stroke="#56b4e9" stroke-width="0.55" fill="none"/><circle cx="272.45" cy="179.31" r="1.32" fill="#56b4e9" fill-opacity="0.06" stroke="#56b4e9" stroke-width="0.7"/><path d="M277.60 175.74 V179.74 M276.40 175.74 h2.4 M276.40 179.74 h2.4" stroke="#56b4e9" stroke-width="0.55" fill="none"/><circle cx="277.60" cy="177.74" r="1.32" fill="#56b4e9" fill-opacity="0.06" stroke="#56b4e9" stroke-width="0.7"/><path d="M282.75 175.42 V179.42 M281.55 175.42 h2.4 M281.55 179.42 h2.4" stroke="#56b4e9" stroke-width="0.55" fill="none"/><circle cx="282.75" cy="177.42" r="1.32" fill="#56b4e9" fill-opacity="0.06" stroke="#56b4e9" stroke-width="0.7"/><path d="M287.90 182.10 V186.10 M286.70 182.10 h2.4 M286.70 186.10 h2.4" stroke="#56b4e9" stroke-width="0.55" fill="none"/><circle cx="287.90" cy="184.10" r="1.32" fill="#56b4e9" fill-opacity="0.06" stroke="#56b4e9" stroke-width="0.7"/><path d="M293.05 174.35 V178.35 M291.85 174.35 h2.4 M291.85 178.35 h2.4" stroke="#56b4e9" stroke-width="0.55" fill="none"/><circle cx="293.05" cy="176.35" r="1.32" fill="#56b4e9" fill-opacity="0.06" stroke="#56b4e9" stroke-width="0.7"/><path d="M298.20 169.15 V173.15 M297.00 169.15 h2.4 M297.00 173.15 h2.4" stroke="#56b4e9" stroke-width="0.55" fill="none"/><circle cx="298.20" cy="171.15" r="1.32" fill="#56b4e9" fill-opacity="0.06" stroke="#56b4e9" stroke-width="0.7"/><path d="M303.35 167.15 V171.15 M302.15 167.15 h2.4 M302.15 171.15 h2.4" stroke="#56b4e9" stroke-width="0.55" fill="none"/><circle cx="303.35" cy="169.15" r="1.32" fill="#56b4e9" fill-opacity="0.06" stroke="#56b4e9" stroke-width="0.7"/><path d="M308.50 165.15 V169.15 M307.30 165.15 h2.4 M307.30 169.15 h2.4" stroke="#56b4e9" stroke-width="0.55" fill="none"/><circle cx="308.50" cy="167.15" r="1.32" fill="#56b4e9" fill-opacity="0.06" stroke="#56b4e9" stroke-width="0.7"/><path d="M313.65 162.09 V166.09 M312.45 162.09 h2.4 M312.45 166.09 h2.4" stroke="#56b4e9" stroke-width="0.55" fill="none"/><circle cx="313.65" cy="164.09" r="1.32" fill="#56b4e9" fill-opacity="0.06" stroke="#56b4e9" stroke-width="0.7"/><path d="M318.80 160.44 V163.64 M317.60 160.44 h2.4 M317.60 163.64 h2.4" stroke="#56b4e9" stroke-width="0.55" fill="none"/><circle cx="318.80" cy="162.04" r="1.32" fill="#56b4e9" fill-opacity="0.06" stroke="#56b4e9" stroke-width="0.7"/><path d="M323.95 157.73 V160.93 M322.75 157.73 h2.4 M322.75 160.93 h2.4" stroke="#56b4e9" stroke-width="0.55" fill="none"/><circle cx="323.95" cy="159.33" r="1.32" fill="#56b4e9" fill-opacity="0.06" stroke="#56b4e9" stroke-width="0.7"/><path d="M329.10 155.05 V158.25 M327.90 155.05 h2.4 M327.90 158.25 h2.4" stroke="#56b4e9" stroke-width="0.55" fill="none"/><circle cx="329.10" cy="156.65" r="1.32" fill="#56b4e9" fill-opacity="0.06" stroke="#56b4e9" stroke-width="0.7"/><path d="M334.25 151.40 V154.60 M333.05 151.40 h2.4 M333.05 154.60 h2.4" stroke="#56b4e9" stroke-width="0.55" fill="none"/><circle cx="334.25" cy="153.00" r="1.32" fill="#56b4e9" fill-opacity="0.06" stroke="#56b4e9" stroke-width="0.7"/><path d="M339.40 147.40 V150.60 M338.20 147.40 h2.4 M338.20 150.60 h2.4" stroke="#56b4e9" stroke-width="0.55" fill="none"/><circle cx="339.40" cy="149.00" r="1.32" fill="#56b4e9" fill-opacity="0.06" stroke="#56b4e9" stroke-width="0.7"/><path d="M344.55 143.00 V146.20 M343.35 143.00 h2.4 M343.35 146.20 h2.4" stroke="#56b4e9" stroke-width="0.55" fill="none"/><circle cx="344.55" cy="144.60" r="1.32" fill="#56b4e9" fill-opacity="0.06" stroke="#56b4e9" stroke-width="0.7"/><path d="M349.70 134.60 V137.80 M348.50 134.60 h2.4 M348.50 137.80 h2.4" stroke="#56b4e9" stroke-width="0.55" fill="none"/><circle cx="349.70" cy="136.20" r="1.32" fill="#56b4e9" fill-opacity="0.06" stroke="#56b4e9" stroke-width="0.7"/><path d="M354.85 125.80 V127.40 M354.40 125.80 h0.9 M354.40 127.40 h0.9" stroke="#56b4e9" stroke-width="0.55" fill="none"/><circle cx="354.85" cy="126.60" r="1.32" fill="#56b4e9" fill-opacity="0.06" stroke="#56b4e9" stroke-width="0.7"/><path d="M360.00 110.20 V111.80 M359.55 110.20 h0.9 M359.55 111.80 h0.9" stroke="#56b4e9" stroke-width="0.55" fill="none"/><circle cx="360.00" cy="111.00" r="1.32" fill="#56b4e9" fill-opacity="0.06" stroke="#56b4e9" stroke-width="0.7"/><path d="M365.15 91.10 V92.70 M364.70 91.10 h0.9 M364.70 92.70 h0.9" stroke="#56b4e9" stroke-width="0.55" fill="none"/><circle cx="365.15" cy="91.90" r="1.32" fill="#56b4e9" fill-opacity="0.06" stroke="#56b4e9" stroke-width="0.7"/><path d="M370.30 73.60 V75.20 M369.85 73.60 h0.9 M369.85 75.20 h0.9" stroke="#56b4e9" stroke-width="0.55" fill="none"/><circle cx="370.30" cy="74.40" r="1.32" fill="#56b4e9" fill-opacity="0.06" stroke="#56b4e9" stroke-width="0.7"/><path d="M375.45 62.00 V63.60 M375.00 62.00 h0.9 M375.00 63.60 h0.9" stroke="#56b4e9" stroke-width="0.55" fill="none"/><circle cx="375.45" cy="62.80" r="1.32" fill="#56b4e9" fill-opacity="0.06" stroke="#56b4e9" stroke-width="0.7"/><path d="M380.60 54.70 V56.30 M380.15 54.70 h0.9 M380.15 56.30 h0.9" stroke="#56b4e9" stroke-width="0.55" fill="none"/><circle cx="380.60" cy="55.50" r="1.32" fill="#56b4e9" fill-opacity="0.06" stroke="#56b4e9" stroke-width="0.7"/><path d="M385.75 49.40 V51.00 M385.30 49.40 h0.9 M385.30 51.00 h0.9" stroke="#56b4e9" stroke-width="0.55" fill="none"/><circle cx="385.75" cy="50.20" r="1.32" fill="#56b4e9" fill-opacity="0.06" stroke="#56b4e9" stroke-width="0.7"/><path d="M390.90 46.00 V47.60 M390.45 46.00 h0.9 M390.45 47.60 h0.9" stroke="#56b4e9" stroke-width="0.55" fill="none"/><circle cx="390.90" cy="46.80" r="1.32" fill="#56b4e9" fill-opacity="0.06" stroke="#56b4e9" stroke-width="0.7"/><path d="M396.05 43.50 V45.10 M395.60 43.50 h0.9 M395.60 45.10 h0.9" stroke="#56b4e9" stroke-width="0.55" fill="none"/><circle cx="396.05" cy="44.30" r="1.32" fill="#56b4e9" fill-opacity="0.06" stroke="#56b4e9" stroke-width="0.7"/></g>
<g><path d="M61.30 226.00 V230.00 M60.10 226.00 h2.4 M60.10 230.00 h2.4" stroke="#e69f00" stroke-width="0.55" fill="none"/><circle cx="61.30" cy="228.00" r="1.50" fill="#e69f00"/><path d="M66.45 214.10 V218.10 M65.25 214.10 h2.4 M65.25 218.10 h2.4" stroke="#e69f00" stroke-width="0.55" fill="none"/><circle cx="66.45" cy="216.10" r="1.50" fill="#e69f00"/><path d="M71.60 211.30 V215.30 M70.40 211.30 h2.4 M70.40 215.30 h2.4" stroke="#e69f00" stroke-width="0.55" fill="none"/><circle cx="71.60" cy="213.30" r="1.50" fill="#e69f00"/><path d="M76.75 210.00 V214.00 M75.55 210.00 h2.4 M75.55 214.00 h2.4" stroke="#e69f00" stroke-width="0.55" fill="none"/><circle cx="76.75" cy="212.00" r="1.50" fill="#e69f00"/><path d="M81.90 210.20 V214.20 M80.70 210.20 h2.4 M80.70 214.20 h2.4" stroke="#e69f00" stroke-width="0.55" fill="none"/><circle cx="81.90" cy="212.20" r="1.50" fill="#e69f00"/><path d="M87.05 208.10 V212.10 M85.85 208.10 h2.4 M85.85 212.10 h2.4" stroke="#e69f00" stroke-width="0.55" fill="none"/><circle cx="87.05" cy="210.10" r="1.50" fill="#e69f00"/><path d="M92.20 207.20 V211.20 M91.00 207.20 h2.4 M91.00 211.20 h2.4" stroke="#e69f00" stroke-width="0.55" fill="none"/><circle cx="92.20" cy="209.20" r="1.50" fill="#e69f00"/><path d="M97.35 207.80 V211.80 M96.15 207.80 h2.4 M96.15 211.80 h2.4" stroke="#e69f00" stroke-width="0.55" fill="none"/><circle cx="97.35" cy="209.80" r="1.50" fill="#e69f00"/><path d="M102.50 207.50 V211.50 M101.30 207.50 h2.4 M101.30 211.50 h2.4" stroke="#e69f00" stroke-width="0.55" fill="none"/><circle cx="102.50" cy="209.50" r="1.50" fill="#e69f00"/><path d="M107.65 206.40 V210.40 M106.45 206.40 h2.4 M106.45 210.40 h2.4" stroke="#e69f00" stroke-width="0.55" fill="none"/><circle cx="107.65" cy="208.40" r="1.50" fill="#e69f00"/><path d="M112.80 206.50 V210.50 M111.60 206.50 h2.4 M111.60 210.50 h2.4" stroke="#e69f00" stroke-width="0.55" fill="none"/><circle cx="112.80" cy="208.50" r="1.50" fill="#e69f00"/><path d="M117.95 204.80 V208.80 M116.75 204.80 h2.4 M116.75 208.80 h2.4" stroke="#e69f00" stroke-width="0.55" fill="none"/><circle cx="117.95" cy="206.80" r="1.50" fill="#e69f00"/><path d="M123.10 202.50 V206.50 M121.90 202.50 h2.4 M121.90 206.50 h2.4" stroke="#e69f00" stroke-width="0.55" fill="none"/><circle cx="123.10" cy="204.50" r="1.50" fill="#e69f00"/><path d="M128.25 202.00 V206.00 M127.05 202.00 h2.4 M127.05 206.00 h2.4" stroke="#e69f00" stroke-width="0.55" fill="none"/><circle cx="128.25" cy="204.00" r="1.50" fill="#e69f00"/><path d="M133.40 201.20 V205.20 M132.20 201.20 h2.4 M132.20 205.20 h2.4" stroke="#e69f00" stroke-width="0.55" fill="none"/><circle cx="133.40" cy="203.20" r="1.50" fill="#e69f00"/><path d="M138.55 200.90 V204.90 M137.35 200.90 h2.4 M137.35 204.90 h2.4" stroke="#e69f00" stroke-width="0.55" fill="none"/><circle cx="138.55" cy="202.90" r="1.50" fill="#e69f00"/><path d="M143.70 201.20 V205.20 M142.50 201.20 h2.4 M142.50 205.20 h2.4" stroke="#e69f00" stroke-width="0.55" fill="none"/><circle cx="143.70" cy="203.20" r="1.50" fill="#e69f00"/><path d="M148.85 203.20 V207.20 M147.65 203.20 h2.4 M147.65 207.20 h2.4" stroke="#e69f00" stroke-width="0.55" fill="none"/><circle cx="148.85" cy="205.20" r="1.50" fill="#e69f00"/><path d="M154.00 207.40 V211.40 M152.80 207.40 h2.4 M152.80 211.40 h2.4" stroke="#e69f00" stroke-width="0.55" fill="none"/><circle cx="154.00" cy="209.40" r="1.50" fill="#e69f00"/><path d="M159.15 210.90 V214.90 M157.95 210.90 h2.4 M157.95 214.90 h2.4" stroke="#e69f00" stroke-width="0.55" fill="none"/><circle cx="159.15" cy="212.90" r="1.50" fill="#e69f00"/><path d="M164.30 200.20 V204.20 M163.10 200.20 h2.4 M163.10 204.20 h2.4" stroke="#e69f00" stroke-width="0.55" fill="none"/><circle cx="164.30" cy="202.20" r="1.50" fill="#e69f00"/><path d="M169.45 199.00 V203.00 M168.25 199.00 h2.4 M168.25 203.00 h2.4" stroke="#e69f00" stroke-width="0.55" fill="none"/><circle cx="169.45" cy="201.00" r="1.50" fill="#e69f00"/><path d="M174.60 198.30 V202.30 M173.40 198.30 h2.4 M173.40 202.30 h2.4" stroke="#e69f00" stroke-width="0.55" fill="none"/><circle cx="174.60" cy="200.30" r="1.50" fill="#e69f00"/><path d="M179.75 198.30 V202.30 M178.55 198.30 h2.4 M178.55 202.30 h2.4" stroke="#e69f00" stroke-width="0.55" fill="none"/><circle cx="179.75" cy="200.30" r="1.50" fill="#e69f00"/><path d="M184.90 204.00 V208.00 M183.70 204.00 h2.4 M183.70 208.00 h2.4" stroke="#e69f00" stroke-width="0.55" fill="none"/><circle cx="184.90" cy="206.00" r="1.50" fill="#e69f00"/><path d="M190.05 198.60 V202.60 M188.85 198.60 h2.4 M188.85 202.60 h2.4" stroke="#e69f00" stroke-width="0.55" fill="none"/><circle cx="190.05" cy="200.60" r="1.50" fill="#e69f00"/><path d="M195.20 195.50 V199.50 M194.00 195.50 h2.4 M194.00 199.50 h2.4" stroke="#e69f00" stroke-width="0.55" fill="none"/><circle cx="195.20" cy="197.50" r="1.50" fill="#e69f00"/><path d="M200.35 193.20 V197.20 M199.15 193.20 h2.4 M199.15 197.20 h2.4" stroke="#e69f00" stroke-width="0.55" fill="none"/><circle cx="200.35" cy="195.20" r="1.50" fill="#e69f00"/><path d="M205.50 192.20 V196.20 M204.30 192.20 h2.4 M204.30 196.20 h2.4" stroke="#e69f00" stroke-width="0.55" fill="none"/><circle cx="205.50" cy="194.20" r="1.50" fill="#e69f00"/><path d="M210.65 191.20 V195.20 M209.45 191.20 h2.4 M209.45 195.20 h2.4" stroke="#e69f00" stroke-width="0.55" fill="none"/><circle cx="210.65" cy="193.20" r="1.50" fill="#e69f00"/><path d="M215.80 189.50 V193.50 M214.60 189.50 h2.4 M214.60 193.50 h2.4" stroke="#e69f00" stroke-width="0.55" fill="none"/><circle cx="215.80" cy="191.50" r="1.50" fill="#e69f00"/><path d="M220.95 189.90 V193.90 M219.75 189.90 h2.4 M219.75 193.90 h2.4" stroke="#e69f00" stroke-width="0.55" fill="none"/><circle cx="220.95" cy="191.90" r="1.50" fill="#e69f00"/><path d="M226.10 189.70 V193.70 M224.90 189.70 h2.4 M224.90 193.70 h2.4" stroke="#e69f00" stroke-width="0.55" fill="none"/><circle cx="226.10" cy="191.70" r="1.50" fill="#e69f00"/><path d="M231.25 188.00 V192.00 M230.05 188.00 h2.4 M230.05 192.00 h2.4" stroke="#e69f00" stroke-width="0.55" fill="none"/><circle cx="231.25" cy="190.00" r="1.50" fill="#e69f00"/><path d="M236.40 185.50 V189.50 M235.20 185.50 h2.4 M235.20 189.50 h2.4" stroke="#e69f00" stroke-width="0.55" fill="none"/><circle cx="236.40" cy="187.50" r="1.50" fill="#e69f00"/><path d="M241.55 185.19 V189.19 M240.35 185.19 h2.4 M240.35 189.19 h2.4" stroke="#e69f00" stroke-width="0.55" fill="none"/><circle cx="241.55" cy="187.19" r="1.50" fill="#e69f00"/><path d="M246.70 183.27 V187.27 M245.50 183.27 h2.4 M245.50 187.27 h2.4" stroke="#e69f00" stroke-width="0.55" fill="none"/><circle cx="246.70" cy="185.27" r="1.50" fill="#e69f00"/><path d="M251.85 180.96 V184.96 M250.65 180.96 h2.4 M250.65 184.96 h2.4" stroke="#e69f00" stroke-width="0.55" fill="none"/><circle cx="251.85" cy="182.96" r="1.50" fill="#e69f00"/><path d="M257.00 182.94 V186.94 M255.80 182.94 h2.4 M255.80 186.94 h2.4" stroke="#e69f00" stroke-width="0.55" fill="none"/><circle cx="257.00" cy="184.94" r="1.50" fill="#e69f00"/><path d="M262.15 190.83 V194.83 M260.95 190.83 h2.4 M260.95 194.83 h2.4" stroke="#e69f00" stroke-width="0.55" fill="none"/><circle cx="262.15" cy="192.83" r="1.50" fill="#e69f00"/><path d="M267.30 181.91 V185.91 M266.10 181.91 h2.4 M266.10 185.91 h2.4" stroke="#e69f00" stroke-width="0.55" fill="none"/><circle cx="267.30" cy="183.91" r="1.50" fill="#e69f00"/><path d="M272.45 176.58 V180.58 M271.25 176.58 h2.4 M271.25 180.58 h2.4" stroke="#e69f00" stroke-width="0.55" fill="none"/><circle cx="272.45" cy="178.58" r="1.50" fill="#e69f00"/><path d="M277.60 174.85 V178.85 M276.40 174.85 h2.4 M276.40 178.85 h2.4" stroke="#e69f00" stroke-width="0.55" fill="none"/><circle cx="277.60" cy="176.85" r="1.50" fill="#e69f00"/><path d="M282.75 174.44 V178.44 M281.55 174.44 h2.4 M281.55 178.44 h2.4" stroke="#e69f00" stroke-width="0.55" fill="none"/><circle cx="282.75" cy="176.44" r="1.50" fill="#e69f00"/><path d="M287.90 180.87 V184.87 M286.70 180.87 h2.4 M286.70 184.87 h2.4" stroke="#e69f00" stroke-width="0.55" fill="none"/><circle cx="287.90" cy="182.87" r="1.50" fill="#e69f00"/><path d="M293.05 173.24 V177.24 M291.85 173.24 h2.4 M291.85 177.24 h2.4" stroke="#e69f00" stroke-width="0.55" fill="none"/><circle cx="293.05" cy="175.24" r="1.50" fill="#e69f00"/><path d="M298.20 168.04 V172.04 M297.00 168.04 h2.4 M297.00 172.04 h2.4" stroke="#e69f00" stroke-width="0.55" fill="none"/><circle cx="298.20" cy="170.04" r="1.50" fill="#e69f00"/><path d="M303.35 166.04 V170.04 M302.15 166.04 h2.4 M302.15 170.04 h2.4" stroke="#e69f00" stroke-width="0.55" fill="none"/><circle cx="303.35" cy="168.04" r="1.50" fill="#e69f00"/><path d="M308.50 164.04 V168.04 M307.30 164.04 h2.4 M307.30 168.04 h2.4" stroke="#e69f00" stroke-width="0.55" fill="none"/><circle cx="308.50" cy="166.04" r="1.50" fill="#e69f00"/><path d="M313.65 160.76 V164.76 M312.45 160.76 h2.4 M312.45 164.76 h2.4" stroke="#e69f00" stroke-width="0.55" fill="none"/><circle cx="313.65" cy="162.76" r="1.50" fill="#e69f00"/><path d="M318.80 159.19 V162.39 M317.60 159.19 h2.4 M317.60 162.39 h2.4" stroke="#e69f00" stroke-width="0.55" fill="none"/><circle cx="318.80" cy="160.79" r="1.50" fill="#e69f00"/><path d="M323.95 156.38 V159.58 M322.75 156.38 h2.4 M322.75 159.58 h2.4" stroke="#e69f00" stroke-width="0.55" fill="none"/><circle cx="323.95" cy="157.98" r="1.50" fill="#e69f00"/><path d="M329.10 153.59 V156.79 M327.90 153.59 h2.4 M327.90 156.79 h2.4" stroke="#e69f00" stroke-width="0.55" fill="none"/><circle cx="329.10" cy="155.19" r="1.50" fill="#e69f00"/><path d="M334.25 149.90 V153.10 M333.05 149.90 h2.4 M333.05 153.10 h2.4" stroke="#e69f00" stroke-width="0.55" fill="none"/><circle cx="334.25" cy="151.50" r="1.50" fill="#e69f00"/><path d="M339.40 145.90 V149.10 M338.20 145.90 h2.4 M338.20 149.10 h2.4" stroke="#e69f00" stroke-width="0.55" fill="none"/><circle cx="339.40" cy="147.50" r="1.50" fill="#e69f00"/><path d="M344.55 141.60 V144.80 M343.35 141.60 h2.4 M343.35 144.80 h2.4" stroke="#e69f00" stroke-width="0.55" fill="none"/><circle cx="344.55" cy="143.20" r="1.50" fill="#e69f00"/><path d="M349.70 133.60 V136.80 M348.50 133.60 h2.4 M348.50 136.80 h2.4" stroke="#e69f00" stroke-width="0.55" fill="none"/><circle cx="349.70" cy="135.20" r="1.50" fill="#e69f00"/><path d="M354.85 124.00 V125.60 M354.40 124.00 h0.9 M354.40 125.60 h0.9" stroke="#e69f00" stroke-width="0.55" fill="none"/><circle cx="354.85" cy="124.80" r="1.50" fill="#e69f00"/><path d="M360.00 106.70 V108.30 M359.55 106.70 h0.9 M359.55 108.30 h0.9" stroke="#e69f00" stroke-width="0.55" fill="none"/><circle cx="360.00" cy="107.50" r="1.50" fill="#e69f00"/><path d="M365.15 84.80 V86.40 M364.70 84.80 h0.9 M364.70 86.40 h0.9" stroke="#e69f00" stroke-width="0.55" fill="none"/><circle cx="365.15" cy="85.60" r="1.50" fill="#e69f00"/><path d="M370.30 65.70 V67.30 M369.85 65.70 h0.9 M369.85 67.30 h0.9" stroke="#e69f00" stroke-width="0.55" fill="none"/><circle cx="370.30" cy="66.50" r="1.50" fill="#e69f00"/><path d="M375.45 52.80 V54.40 M375.00 52.80 h0.9 M375.00 54.40 h0.9" stroke="#e69f00" stroke-width="0.55" fill="none"/><circle cx="375.45" cy="53.60" r="1.50" fill="#e69f00"/><path d="M380.60 44.80 V46.40 M380.15 44.80 h0.9 M380.15 46.40 h0.9" stroke="#e69f00" stroke-width="0.55" fill="none"/><circle cx="380.60" cy="45.60" r="1.50" fill="#e69f00"/><path d="M385.75 39.40 V41.00 M385.30 39.40 h0.9 M385.30 41.00 h0.9" stroke="#e69f00" stroke-width="0.55" fill="none"/><circle cx="385.75" cy="40.20" r="1.50" fill="#e69f00"/><path d="M390.90 35.70 V37.30 M390.45 35.70 h0.9 M390.45 37.30 h0.9" stroke="#e69f00" stroke-width="0.55" fill="none"/><circle cx="390.90" cy="36.50" r="1.50" fill="#e69f00"/><path d="M396.05 32.80 V34.40 M395.60 32.80 h0.9 M395.60 34.40 h0.9" stroke="#e69f00" stroke-width="0.55" fill="none"/><circle cx="396.05" cy="33.60" r="1.50" fill="#e69f00"/></g>
<g><path d="M61.30 224.80 V228.80 M60.10 224.80 h2.4 M60.10 228.80 h2.4" stroke="#ee2f24" stroke-width="0.55" fill="none"/><path d="M61.30 225.66 L62.67 227.69 L59.93 227.69 Z" fill="#ee2f24" fill-opacity="0.12" stroke="#ee2f24" stroke-width="0.68" stroke-linejoin="round"/><path d="M66.45 212.90 V216.90 M65.25 212.90 h2.4 M65.25 216.90 h2.4" stroke="#ee2f24" stroke-width="0.55" fill="none"/><path d="M66.45 213.76 L67.82 215.79 L65.08 215.79 Z" fill="#ee2f24" fill-opacity="0.12" stroke="#ee2f24" stroke-width="0.68" stroke-linejoin="round"/><path d="M71.60 210.10 V214.10 M70.40 210.10 h2.4 M70.40 214.10 h2.4" stroke="#ee2f24" stroke-width="0.55" fill="none"/><path d="M71.60 210.96 L72.97 212.99 L70.23 212.99 Z" fill="#ee2f24" fill-opacity="0.12" stroke="#ee2f24" stroke-width="0.68" stroke-linejoin="round"/><path d="M76.75 208.80 V212.80 M75.55 208.80 h2.4 M75.55 212.80 h2.4" stroke="#ee2f24" stroke-width="0.55" fill="none"/><path d="M76.75 209.66 L78.12 211.69 L75.38 211.69 Z" fill="#ee2f24" fill-opacity="0.12" stroke="#ee2f24" stroke-width="0.68" stroke-linejoin="round"/><path d="M81.90 209.00 V213.00 M80.70 209.00 h2.4 M80.70 213.00 h2.4" stroke="#ee2f24" stroke-width="0.55" fill="none"/><path d="M81.90 209.86 L83.27 211.89 L80.53 211.89 Z" fill="#ee2f24" fill-opacity="0.12" stroke="#ee2f24" stroke-width="0.68" stroke-linejoin="round"/><path d="M87.05 206.90 V210.90 M85.85 206.90 h2.4 M85.85 210.90 h2.4" stroke="#ee2f24" stroke-width="0.55" fill="none"/><path d="M87.05 207.76 L88.42 209.79 L85.68 209.79 Z" fill="#ee2f24" fill-opacity="0.12" stroke="#ee2f24" stroke-width="0.68" stroke-linejoin="round"/><path d="M92.20 206.00 V210.00 M91.00 206.00 h2.4 M91.00 210.00 h2.4" stroke="#ee2f24" stroke-width="0.55" fill="none"/><path d="M92.20 206.86 L93.57 208.89 L90.83 208.89 Z" fill="#ee2f24" fill-opacity="0.12" stroke="#ee2f24" stroke-width="0.68" stroke-linejoin="round"/><path d="M97.35 206.60 V210.60 M96.15 206.60 h2.4 M96.15 210.60 h2.4" stroke="#ee2f24" stroke-width="0.55" fill="none"/><path d="M97.35 207.46 L98.72 209.49 L95.98 209.49 Z" fill="#ee2f24" fill-opacity="0.12" stroke="#ee2f24" stroke-width="0.68" stroke-linejoin="round"/><path d="M102.50 206.30 V210.30 M101.30 206.30 h2.4 M101.30 210.30 h2.4" stroke="#ee2f24" stroke-width="0.55" fill="none"/><path d="M102.50 207.16 L103.87 209.19 L101.13 209.19 Z" fill="#ee2f24" fill-opacity="0.12" stroke="#ee2f24" stroke-width="0.68" stroke-linejoin="round"/><path d="M107.65 205.20 V209.20 M106.45 205.20 h2.4 M106.45 209.20 h2.4" stroke="#ee2f24" stroke-width="0.55" fill="none"/><path d="M107.65 206.06 L109.02 208.09 L106.28 208.09 Z" fill="#ee2f24" fill-opacity="0.12" stroke="#ee2f24" stroke-width="0.68" stroke-linejoin="round"/><path d="M112.80 205.30 V209.30 M111.60 205.30 h2.4 M111.60 209.30 h2.4" stroke="#ee2f24" stroke-width="0.55" fill="none"/><path d="M112.80 206.16 L114.17 208.19 L111.43 208.19 Z" fill="#ee2f24" fill-opacity="0.12" stroke="#ee2f24" stroke-width="0.68" stroke-linejoin="round"/><path d="M117.95 203.60 V207.60 M116.75 203.60 h2.4 M116.75 207.60 h2.4" stroke="#ee2f24" stroke-width="0.55" fill="none"/><path d="M117.95 204.46 L119.32 206.49 L116.58 206.49 Z" fill="#ee2f24" fill-opacity="0.12" stroke="#ee2f24" stroke-width="0.68" stroke-linejoin="round"/><path d="M123.10 201.30 V205.30 M121.90 201.30 h2.4 M121.90 205.30 h2.4" stroke="#ee2f24" stroke-width="0.55" fill="none"/><path d="M123.10 202.16 L124.47 204.19 L121.73 204.19 Z" fill="#ee2f24" fill-opacity="0.12" stroke="#ee2f24" stroke-width="0.68" stroke-linejoin="round"/><path d="M128.25 200.80 V204.80 M127.05 200.80 h2.4 M127.05 204.80 h2.4" stroke="#ee2f24" stroke-width="0.55" fill="none"/><path d="M128.25 201.66 L129.62 203.69 L126.88 203.69 Z" fill="#ee2f24" fill-opacity="0.12" stroke="#ee2f24" stroke-width="0.68" stroke-linejoin="round"/><path d="M133.40 200.00 V204.00 M132.20 200.00 h2.4 M132.20 204.00 h2.4" stroke="#ee2f24" stroke-width="0.55" fill="none"/><path d="M133.40 200.86 L134.77 202.89 L132.03 202.89 Z" fill="#ee2f24" fill-opacity="0.12" stroke="#ee2f24" stroke-width="0.68" stroke-linejoin="round"/><path d="M138.55 199.70 V203.70 M137.35 199.70 h2.4 M137.35 203.70 h2.4" stroke="#ee2f24" stroke-width="0.55" fill="none"/><path d="M138.55 200.56 L139.92 202.59 L137.18 202.59 Z" fill="#ee2f24" fill-opacity="0.12" stroke="#ee2f24" stroke-width="0.68" stroke-linejoin="round"/><path d="M143.70 200.00 V204.00 M142.50 200.00 h2.4 M142.50 204.00 h2.4" stroke="#ee2f24" stroke-width="0.55" fill="none"/><path d="M143.70 200.86 L145.07 202.89 L142.33 202.89 Z" fill="#ee2f24" fill-opacity="0.12" stroke="#ee2f24" stroke-width="0.68" stroke-linejoin="round"/><path d="M148.85 202.00 V206.00 M147.65 202.00 h2.4 M147.65 206.00 h2.4" stroke="#ee2f24" stroke-width="0.55" fill="none"/><path d="M148.85 202.86 L150.22 204.89 L147.48 204.89 Z" fill="#ee2f24" fill-opacity="0.12" stroke="#ee2f24" stroke-width="0.68" stroke-linejoin="round"/><path d="M154.00 206.20 V210.20 M152.80 206.20 h2.4 M152.80 210.20 h2.4" stroke="#ee2f24" stroke-width="0.55" fill="none"/><path d="M154.00 207.06 L155.37 209.09 L152.63 209.09 Z" fill="#ee2f24" fill-opacity="0.12" stroke="#ee2f24" stroke-width="0.68" stroke-linejoin="round"/><path d="M159.15 209.70 V213.70 M157.95 209.70 h2.4 M157.95 213.70 h2.4" stroke="#ee2f24" stroke-width="0.55" fill="none"/><path d="M159.15 210.56 L160.52 212.59 L157.78 212.59 Z" fill="#ee2f24" fill-opacity="0.12" stroke="#ee2f24" stroke-width="0.68" stroke-linejoin="round"/><path d="M164.30 199.00 V203.00 M163.10 199.00 h2.4 M163.10 203.00 h2.4" stroke="#ee2f24" stroke-width="0.55" fill="none"/><path d="M164.30 199.86 L165.67 201.89 L162.93 201.89 Z" fill="#ee2f24" fill-opacity="0.12" stroke="#ee2f24" stroke-width="0.68" stroke-linejoin="round"/><path d="M169.45 197.80 V201.80 M168.25 197.80 h2.4 M168.25 201.80 h2.4" stroke="#ee2f24" stroke-width="0.55" fill="none"/><path d="M169.45 198.66 L170.82 200.69 L168.08 200.69 Z" fill="#ee2f24" fill-opacity="0.12" stroke="#ee2f24" stroke-width="0.68" stroke-linejoin="round"/><path d="M174.60 197.10 V201.10 M173.40 197.10 h2.4 M173.40 201.10 h2.4" stroke="#ee2f24" stroke-width="0.55" fill="none"/><path d="M174.60 197.96 L175.97 199.99 L173.23 199.99 Z" fill="#ee2f24" fill-opacity="0.12" stroke="#ee2f24" stroke-width="0.68" stroke-linejoin="round"/><path d="M179.75 197.10 V201.10 M178.55 197.10 h2.4 M178.55 201.10 h2.4" stroke="#ee2f24" stroke-width="0.55" fill="none"/><path d="M179.75 197.96 L181.12 199.99 L178.38 199.99 Z" fill="#ee2f24" fill-opacity="0.12" stroke="#ee2f24" stroke-width="0.68" stroke-linejoin="round"/><path d="M184.90 202.80 V206.80 M183.70 202.80 h2.4 M183.70 206.80 h2.4" stroke="#ee2f24" stroke-width="0.55" fill="none"/><path d="M184.90 203.66 L186.27 205.69 L183.53 205.69 Z" fill="#ee2f24" fill-opacity="0.12" stroke="#ee2f24" stroke-width="0.68" stroke-linejoin="round"/><path d="M190.05 197.40 V201.40 M188.85 197.40 h2.4 M188.85 201.40 h2.4" stroke="#ee2f24" stroke-width="0.55" fill="none"/><path d="M190.05 198.26 L191.42 200.29 L188.68 200.29 Z" fill="#ee2f24" fill-opacity="0.12" stroke="#ee2f24" stroke-width="0.68" stroke-linejoin="round"/><path d="M195.20 194.30 V198.30 M194.00 194.30 h2.4 M194.00 198.30 h2.4" stroke="#ee2f24" stroke-width="0.55" fill="none"/><path d="M195.20 195.16 L196.57 197.19 L193.83 197.19 Z" fill="#ee2f24" fill-opacity="0.12" stroke="#ee2f24" stroke-width="0.68" stroke-linejoin="round"/><path d="M200.35 192.00 V196.00 M199.15 192.00 h2.4 M199.15 196.00 h2.4" stroke="#ee2f24" stroke-width="0.55" fill="none"/><path d="M200.35 192.86 L201.72 194.89 L198.98 194.89 Z" fill="#ee2f24" fill-opacity="0.12" stroke="#ee2f24" stroke-width="0.68" stroke-linejoin="round"/><path d="M205.50 191.00 V195.00 M204.30 191.00 h2.4 M204.30 195.00 h2.4" stroke="#ee2f24" stroke-width="0.55" fill="none"/><path d="M205.50 191.86 L206.87 193.89 L204.13 193.89 Z" fill="#ee2f24" fill-opacity="0.12" stroke="#ee2f24" stroke-width="0.68" stroke-linejoin="round"/><path d="M210.65 190.00 V194.00 M209.45 190.00 h2.4 M209.45 194.00 h2.4" stroke="#ee2f24" stroke-width="0.55" fill="none"/><path d="M210.65 190.86 L212.02 192.89 L209.28 192.89 Z" fill="#ee2f24" fill-opacity="0.12" stroke="#ee2f24" stroke-width="0.68" stroke-linejoin="round"/><path d="M215.80 188.30 V192.30 M214.60 188.30 h2.4 M214.60 192.30 h2.4" stroke="#ee2f24" stroke-width="0.55" fill="none"/><path d="M215.80 189.16 L217.17 191.19 L214.43 191.19 Z" fill="#ee2f24" fill-opacity="0.12" stroke="#ee2f24" stroke-width="0.68" stroke-linejoin="round"/><path d="M220.95 188.70 V192.70 M219.75 188.70 h2.4 M219.75 192.70 h2.4" stroke="#ee2f24" stroke-width="0.55" fill="none"/><path d="M220.95 189.56 L222.32 191.59 L219.58 191.59 Z" fill="#ee2f24" fill-opacity="0.12" stroke="#ee2f24" stroke-width="0.68" stroke-linejoin="round"/><path d="M226.10 188.50 V192.50 M224.90 188.50 h2.4 M224.90 192.50 h2.4" stroke="#ee2f24" stroke-width="0.55" fill="none"/><path d="M226.10 189.36 L227.47 191.39 L224.73 191.39 Z" fill="#ee2f24" fill-opacity="0.12" stroke="#ee2f24" stroke-width="0.68" stroke-linejoin="round"/><path d="M231.25 186.80 V190.80 M230.05 186.80 h2.4 M230.05 190.80 h2.4" stroke="#ee2f24" stroke-width="0.55" fill="none"/><path d="M231.25 187.66 L232.62 189.69 L229.88 189.69 Z" fill="#ee2f24" fill-opacity="0.12" stroke="#ee2f24" stroke-width="0.68" stroke-linejoin="round"/><path d="M236.40 184.30 V188.30 M235.20 184.30 h2.4 M235.20 188.30 h2.4" stroke="#ee2f24" stroke-width="0.55" fill="none"/><path d="M236.40 185.16 L237.77 187.19 L235.03 187.19 Z" fill="#ee2f24" fill-opacity="0.12" stroke="#ee2f24" stroke-width="0.68" stroke-linejoin="round"/><path d="M241.55 184.06 V188.06 M240.35 184.06 h2.4 M240.35 188.06 h2.4" stroke="#ee2f24" stroke-width="0.55" fill="none"/><path d="M241.55 184.91 L242.92 186.95 L240.18 186.95 Z" fill="#ee2f24" fill-opacity="0.12" stroke="#ee2f24" stroke-width="0.68" stroke-linejoin="round"/><path d="M246.70 182.21 V186.21 M245.50 182.21 h2.4 M245.50 186.21 h2.4" stroke="#ee2f24" stroke-width="0.55" fill="none"/><path d="M246.70 183.07 L248.07 185.10 L245.33 185.10 Z" fill="#ee2f24" fill-opacity="0.12" stroke="#ee2f24" stroke-width="0.68" stroke-linejoin="round"/><path d="M251.85 179.97 V183.97 M250.65 179.97 h2.4 M250.65 183.97 h2.4" stroke="#ee2f24" stroke-width="0.55" fill="none"/><path d="M251.85 180.83 L253.22 182.86 L250.48 182.86 Z" fill="#ee2f24" fill-opacity="0.12" stroke="#ee2f24" stroke-width="0.68" stroke-linejoin="round"/><path d="M257.00 182.03 V186.03 M255.80 182.03 h2.4 M255.80 186.03 h2.4" stroke="#ee2f24" stroke-width="0.55" fill="none"/><path d="M257.00 182.89 L258.37 184.92 L255.63 184.92 Z" fill="#ee2f24" fill-opacity="0.12" stroke="#ee2f24" stroke-width="0.68" stroke-linejoin="round"/><path d="M262.15 189.99 V193.99 M260.95 189.99 h2.4 M260.95 193.99 h2.4" stroke="#ee2f24" stroke-width="0.55" fill="none"/><path d="M262.15 190.84 L263.52 192.87 L260.78 192.87 Z" fill="#ee2f24" fill-opacity="0.12" stroke="#ee2f24" stroke-width="0.68" stroke-linejoin="round"/><path d="M267.30 181.14 V185.14 M266.10 181.14 h2.4 M266.10 185.14 h2.4" stroke="#ee2f24" stroke-width="0.55" fill="none"/><path d="M267.30 182.00 L268.67 184.03 L265.93 184.03 Z" fill="#ee2f24" fill-opacity="0.12" stroke="#ee2f24" stroke-width="0.68" stroke-linejoin="round"/><path d="M272.45 175.90 V179.90 M271.25 175.90 h2.4 M271.25 179.90 h2.4" stroke="#ee2f24" stroke-width="0.55" fill="none"/><path d="M272.45 176.76 L273.82 178.79 L271.08 178.79 Z" fill="#ee2f24" fill-opacity="0.12" stroke="#ee2f24" stroke-width="0.68" stroke-linejoin="round"/><path d="M277.60 174.00 V178.00 M276.40 174.00 h2.4 M276.40 178.00 h2.4" stroke="#ee2f24" stroke-width="0.55" fill="none"/><path d="M277.60 174.86 L278.97 176.89 L276.23 176.89 Z" fill="#ee2f24" fill-opacity="0.12" stroke="#ee2f24" stroke-width="0.68" stroke-linejoin="round"/><path d="M282.75 173.50 V177.50 M281.55 173.50 h2.4 M281.55 177.50 h2.4" stroke="#ee2f24" stroke-width="0.55" fill="none"/><path d="M282.75 174.36 L284.12 176.39 L281.38 176.39 Z" fill="#ee2f24" fill-opacity="0.12" stroke="#ee2f24" stroke-width="0.68" stroke-linejoin="round"/><path d="M287.90 179.70 V183.70 M286.70 179.70 h2.4 M286.70 183.70 h2.4" stroke="#ee2f24" stroke-width="0.55" fill="none"/><path d="M287.90 180.56 L289.27 182.59 L286.53 182.59 Z" fill="#ee2f24" fill-opacity="0.12" stroke="#ee2f24" stroke-width="0.68" stroke-linejoin="round"/><path d="M293.05 172.20 V176.20 M291.85 172.20 h2.4 M291.85 176.20 h2.4" stroke="#ee2f24" stroke-width="0.55" fill="none"/><path d="M293.05 173.06 L294.42 175.09 L291.68 175.09 Z" fill="#ee2f24" fill-opacity="0.12" stroke="#ee2f24" stroke-width="0.68" stroke-linejoin="round"/><path d="M298.20 167.00 V171.00 M297.00 167.00 h2.4 M297.00 171.00 h2.4" stroke="#ee2f24" stroke-width="0.55" fill="none"/><path d="M298.20 167.86 L299.57 169.89 L296.83 169.89 Z" fill="#ee2f24" fill-opacity="0.12" stroke="#ee2f24" stroke-width="0.68" stroke-linejoin="round"/><path d="M303.35 165.00 V169.00 M302.15 165.00 h2.4 M302.15 169.00 h2.4" stroke="#ee2f24" stroke-width="0.55" fill="none"/><path d="M303.35 165.86 L304.72 167.89 L301.98 167.89 Z" fill="#ee2f24" fill-opacity="0.12" stroke="#ee2f24" stroke-width="0.68" stroke-linejoin="round"/><path d="M308.50 163.00 V167.00 M307.30 163.00 h2.4 M307.30 167.00 h2.4" stroke="#ee2f24" stroke-width="0.55" fill="none"/><path d="M308.50 163.86 L309.87 165.89 L307.13 165.89 Z" fill="#ee2f24" fill-opacity="0.12" stroke="#ee2f24" stroke-width="0.68" stroke-linejoin="round"/><path d="M313.65 159.50 V163.50 M312.45 159.50 h2.4 M312.45 163.50 h2.4" stroke="#ee2f24" stroke-width="0.55" fill="none"/><path d="M313.65 160.36 L315.02 162.39 L312.28 162.39 Z" fill="#ee2f24" fill-opacity="0.12" stroke="#ee2f24" stroke-width="0.68" stroke-linejoin="round"/><path d="M318.80 158.00 V161.20 M317.60 158.00 h2.4 M317.60 161.20 h2.4" stroke="#ee2f24" stroke-width="0.55" fill="none"/><path d="M318.80 158.46 L320.17 160.49 L317.43 160.49 Z" fill="#ee2f24" fill-opacity="0.12" stroke="#ee2f24" stroke-width="0.68" stroke-linejoin="round"/><path d="M323.95 155.10 V158.30 M322.75 155.10 h2.4 M322.75 158.30 h2.4" stroke="#ee2f24" stroke-width="0.55" fill="none"/><path d="M323.95 155.56 L325.32 157.59 L322.58 157.59 Z" fill="#ee2f24" fill-opacity="0.12" stroke="#ee2f24" stroke-width="0.68" stroke-linejoin="round"/><path d="M329.10 152.20 V155.40 M327.90 152.20 h2.4 M327.90 155.40 h2.4" stroke="#ee2f24" stroke-width="0.55" fill="none"/><path d="M329.10 152.66 L330.47 154.69 L327.73 154.69 Z" fill="#ee2f24" fill-opacity="0.12" stroke="#ee2f24" stroke-width="0.68" stroke-linejoin="round"/><path d="M334.25 148.70 V151.90 M333.05 148.70 h2.4 M333.05 151.90 h2.4" stroke="#ee2f24" stroke-width="0.55" fill="none"/><path d="M334.25 149.16 L335.62 151.19 L332.88 151.19 Z" fill="#ee2f24" fill-opacity="0.12" stroke="#ee2f24" stroke-width="0.68" stroke-linejoin="round"/><path d="M339.40 143.60 V146.80 M338.20 143.60 h2.4 M338.20 146.80 h2.4" stroke="#ee2f24" stroke-width="0.55" fill="none"/><path d="M339.40 144.06 L340.77 146.09 L338.03 146.09 Z" fill="#ee2f24" fill-opacity="0.12" stroke="#ee2f24" stroke-width="0.68" stroke-linejoin="round"/><path d="M344.55 138.60 V141.80 M343.35 138.60 h2.4 M343.35 141.80 h2.4" stroke="#ee2f24" stroke-width="0.55" fill="none"/><path d="M344.55 139.06 L345.92 141.09 L343.18 141.09 Z" fill="#ee2f24" fill-opacity="0.12" stroke="#ee2f24" stroke-width="0.68" stroke-linejoin="round"/><path d="M349.70 131.60 V134.80 M348.50 131.60 h2.4 M348.50 134.80 h2.4" stroke="#ee2f24" stroke-width="0.55" fill="none"/><path d="M349.70 132.06 L351.07 134.09 L348.33 134.09 Z" fill="#ee2f24" fill-opacity="0.12" stroke="#ee2f24" stroke-width="0.68" stroke-linejoin="round"/><path d="M354.85 120.80 V122.40 M354.40 120.80 h0.9 M354.40 122.40 h0.9" stroke="#ee2f24" stroke-width="0.55" fill="none"/><path d="M354.85 120.46 L356.22 122.49 L353.48 122.49 Z" fill="#ee2f24" fill-opacity="0.12" stroke="#ee2f24" stroke-width="0.68" stroke-linejoin="round"/><path d="M360.00 102.00 V103.60 M359.55 102.00 h0.9 M359.55 103.60 h0.9" stroke="#ee2f24" stroke-width="0.55" fill="none"/><path d="M360.00 101.66 L361.37 103.69 L358.63 103.69 Z" fill="#ee2f24" fill-opacity="0.12" stroke="#ee2f24" stroke-width="0.68" stroke-linejoin="round"/><path d="M365.15 78.40 V80.00 M364.70 78.40 h0.9 M364.70 80.00 h0.9" stroke="#ee2f24" stroke-width="0.55" fill="none"/><path d="M365.15 78.06 L366.52 80.09 L363.78 80.09 Z" fill="#ee2f24" fill-opacity="0.12" stroke="#ee2f24" stroke-width="0.68" stroke-linejoin="round"/><path d="M370.30 58.00 V59.60 M369.85 58.00 h0.9 M369.85 59.60 h0.9" stroke="#ee2f24" stroke-width="0.55" fill="none"/><path d="M370.30 57.66 L371.67 59.69 L368.93 59.69 Z" fill="#ee2f24" fill-opacity="0.12" stroke="#ee2f24" stroke-width="0.68" stroke-linejoin="round"/><path d="M375.45 44.60 V46.20 M375.00 44.60 h0.9 M375.00 46.20 h0.9" stroke="#ee2f24" stroke-width="0.55" fill="none"/><path d="M375.45 44.26 L376.82 46.29 L374.08 46.29 Z" fill="#ee2f24" fill-opacity="0.12" stroke="#ee2f24" stroke-width="0.68" stroke-linejoin="round"/><path d="M380.60 35.90 V37.50 M380.15 35.90 h0.9 M380.15 37.50 h0.9" stroke="#ee2f24" stroke-width="0.55" fill="none"/><path d="M380.60 35.56 L381.97 37.59 L379.23 37.59 Z" fill="#ee2f24" fill-opacity="0.12" stroke="#ee2f24" stroke-width="0.68" stroke-linejoin="round"/><path d="M385.75 29.90 V31.50 M385.30 29.90 h0.9 M385.30 31.50 h0.9" stroke="#ee2f24" stroke-width="0.55" fill="none"/><path d="M385.75 29.56 L387.12 31.59 L384.38 31.59 Z" fill="#ee2f24" fill-opacity="0.12" stroke="#ee2f24" stroke-width="0.68" stroke-linejoin="round"/><path d="M390.90 26.10 V27.70 M390.45 26.10 h0.9 M390.45 27.70 h0.9" stroke="#ee2f24" stroke-width="0.55" fill="none"/><path d="M390.90 25.76 L392.27 27.79 L389.53 27.79 Z" fill="#ee2f24" fill-opacity="0.12" stroke="#ee2f24" stroke-width="0.68" stroke-linejoin="round"/><path d="M396.05 23.30 V24.90 M395.60 23.30 h0.9 M395.60 24.90 h0.9" stroke="#ee2f24" stroke-width="0.55" fill="none"/><path d="M396.05 22.96 L397.42 24.99 L394.68 24.99 Z" fill="#ee2f24" fill-opacity="0.12" stroke="#ee2f24" stroke-width="0.68" stroke-linejoin="round"/></g>
<rect x="59.0" y="22.25" width="339.3" height="208.15" fill="none" stroke="#000" stroke-width="1.05" stroke-opacity="0.52"/>
<path d="M111.2 32.0 H137.5 M111.2 30.5 v3 M137.5 30.5 v3" stroke="#9d22dc" stroke-width="0.52" fill="none"/>
<rect x="123.03" y="30.73" width="2.54" height="2.54" fill="#c88af0" fill-opacity="0.4" stroke="#b95fea" stroke-width="0.8"/>
<text x="62.4" y="34.7" class="lg it">N</text>
<text x="71.4" y="36.6" class="it" style="font-size:9px">s</text>
<path d="M80.6 30.4 h8.2 M80.6 33.0 h8.2" stroke="#333" stroke-width="0.65" fill="none"/>
<text x="105.1" y="34.7" text-anchor="end" class="lg">40</text>
<path d="M111.2 46.45 H137.5 M111.2 44.95 v3 M137.5 44.95 v3" stroke="#009e73" stroke-width="0.52" fill="none"/>
<rect x="122.92" y="45.07" width="2.76" height="2.76" fill="#009e73"/>
<text x="62.4" y="49.2" class="lg it">N</text>
<text x="71.4" y="51.1" class="it" style="font-size:9px">s</text>
<path d="M80.6 44.9 h8.2 M80.6 47.5 h8.2" stroke="#333" stroke-width="0.65" fill="none"/>
<text x="105.1" y="49.2" text-anchor="end" class="lg">48</text>
<path d="M111.2 60.95 H137.5 M111.2 59.45 v3 M137.5 59.45 v3" stroke="#56b4e9" stroke-width="0.52" fill="none"/>
<circle cx="124.30" cy="60.95" r="1.32" fill="#56b4e9" fill-opacity="0.06" stroke="#56b4e9" stroke-width="0.7"/>
<text x="62.4" y="63.7" class="lg it">N</text>
<text x="71.4" y="65.5" class="it" style="font-size:9px">s</text>
<path d="M80.6 59.4 h8.2 M80.6 62.0 h8.2" stroke="#333" stroke-width="0.65" fill="none"/>
<text x="105.1" y="63.7" text-anchor="end" class="lg">56</text>
<path d="M111.2 75.45 H137.5 M111.2 73.95 v3 M137.5 73.95 v3" stroke="#e69f00" stroke-width="0.52" fill="none"/>
<circle cx="124.30" cy="75.45" r="1.50" fill="#e69f00"/>
<text x="62.4" y="78.2" class="lg it">N</text>
<text x="71.4" y="80.0" class="it" style="font-size:9px">s</text>
<path d="M80.6 73.9 h8.2 M80.6 76.5 h8.2" stroke="#333" stroke-width="0.65" fill="none"/>
<text x="105.1" y="78.2" text-anchor="end" class="lg">64</text>
<path d="M111.2 89.9 H137.5 M111.2 88.4 v3 M137.5 88.4 v3" stroke="#ee2f24" stroke-width="0.52" fill="none"/>
<path d="M124.30 88.76 L125.67 90.79 L122.93 90.79 Z" fill="#ee2f24" fill-opacity="0.12" stroke="#ee2f24" stroke-width="0.68" stroke-linejoin="round"/>
<text x="62.4" y="92.6" class="lg it">N</text>
<text x="71.4" y="94.5" class="it" style="font-size:9px">s</text>
<path d="M80.6 88.3 h8.2 M80.6 90.9 h8.2" stroke="#333" stroke-width="0.65" fill="none"/>
<text x="105.1" y="92.6" text-anchor="end" class="lg">72</text>
<text transform="translate(198.0,11.4) scale(1.12,1.0)" text-anchor="start" class="ti it" >β</text>
<path d="M212.4 5.8 h9.8 M212.4 8.4 h9.8" stroke="#333" stroke-width="0.7" fill="none"/>
<text transform="translate(227.0,11.4) scale(1.0,0.97)" text-anchor="start" class="ti" >0.734</text>
<text transform="translate(52.8,35.7) scale(1.08,1.0)" text-anchor="end" class="tk" >1000</text>
<text transform="translate(52.8,135.4) scale(1.08,1.0)" text-anchor="end" class="tk" >100</text>
<text transform="translate(52.8,235.0) scale(1.08,1.0)" text-anchor="end" class="tk" >10</text>
<text transform="translate(59.0,243.6) scale(1.07,1.0)" text-anchor="middle" class="tk" >0</text>
<text transform="translate(141.3,243.6) scale(1.07,1.0)" text-anchor="middle" class="tk" >0.2</text>
<text transform="translate(223.7,243.6) scale(1.07,1.0)" text-anchor="middle" class="tk" >0.4</text>
<text transform="translate(306.0,243.6) scale(1.07,1.0)" text-anchor="middle" class="tk" >0.6</text>
<text transform="translate(388.4,243.6) scale(1.07,1.0)" text-anchor="middle" class="tk" >0.8</text>
<text transform="translate(340.2,243.2) scale(1.2,0.98)" text-anchor="start" class="ax it" style="font-size:13.6px">λ</text>
<text transform="translate(347.3,246.4) scale(1.08,0.92)" text-anchor="start" class="ax" style="font-size:10.2px">(0)</text>
<text transform="translate(364.9,243.2) scale(1.2,0.98)" text-anchor="start" class="ax it" style="font-size:13.6px">λ</text>
<text transform="translate(372.0,245.6) scale(1.05,1.0)" text-anchor="start" class="ax it" style="font-size:10px">c</text>
<path d="M226.3 247.9 L227.5 247.5 L233.5 261.5" stroke="#333" stroke-width="1.15" fill="none" stroke-linecap="round"/>
<path d="M230.5 254.2 L224.3 261" stroke="#333" stroke-width="0.8" fill="none"/>
<g transform="translate(12.6,151.0) rotate(-90)"><text x="0" y="0" class="ax" style="font-size:14.6px;fill:#3d3d3d" textLength="30.6" lengthAdjust="spacingAndGlyphs">IPR</text><text x="31.4" y="-4.8" class="ax" style="font-size:10px" textLength="7.4" lengthAdjust="spacingAndGlyphs">−</text><text x="40.0" y="-4.8" class="ax" style="font-size:9.6px" textLength="6.0" lengthAdjust="spacingAndGlyphs">1</text></g>
</svg>
</body></html>
